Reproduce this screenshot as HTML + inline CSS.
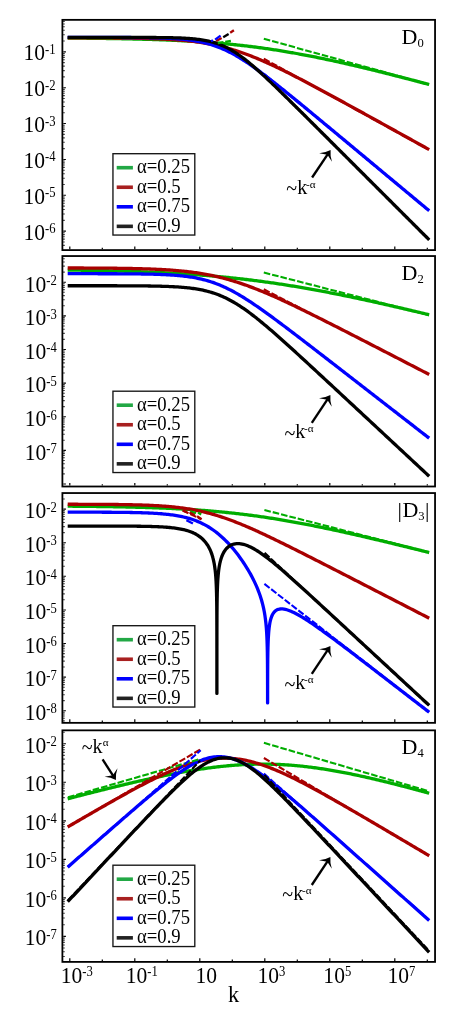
<!DOCTYPE html>
<html><head><meta charset="utf-8"><title>chart</title>
<style>svg text{font-family:"Liberation Serif",serif;}html,body{margin:0;padding:0;background:#fff;}body{width:463px;height:1021px;position:relative;overflow:hidden;font-family:"Liberation Serif",serif;}</style>
</head><body>
<svg width="463" height="1021" viewBox="0 0 463 1021" style="position:absolute;left:0;top:0;will-change:transform">
<rect width="463" height="1021" fill="#fff"/>
<clipPath id="c0"><rect x="62.4" y="19.85" width="372.65000000000003" height="230.25"/></clipPath>
<g clip-path="url(#c0)" fill="none" stroke-linejoin="round">
<path d="M67.69,38.06 L69.08,38.07 L70.48,38.08 L71.87,38.09 L73.27,38.11 L74.67,38.12 L76.06,38.13 L77.46,38.14 L78.85,38.15 L80.25,38.17 L81.64,38.18 L83.04,38.19 L84.44,38.21 L85.83,38.22 L87.23,38.24 L88.62,38.25 L90.02,38.27 L91.42,38.28 L92.81,38.30 L94.21,38.31 L95.60,38.33 L97.00,38.35 L98.39,38.37 L99.79,38.38 L101.19,38.40 L102.58,38.42 L103.98,38.44 L105.37,38.46 L106.77,38.48 L108.16,38.50 L109.56,38.52 L110.96,38.55 L112.35,38.57 L113.75,38.59 L115.14,38.61 L116.54,38.64 L117.93,38.66 L119.33,38.69 L120.73,38.71 L122.12,38.74 L123.52,38.77 L124.91,38.80 L126.31,38.83 L127.70,38.85 L129.10,38.88 L130.50,38.92 L131.89,38.95 L133.29,38.98 L134.68,39.01 L136.08,39.05 L137.47,39.08 L138.87,39.12 L140.27,39.15 L141.66,39.19 L143.06,39.23 L144.45,39.27 L145.85,39.31 L147.24,39.35 L148.64,39.39 L150.04,39.43 L151.43,39.47 L152.83,39.52 L154.22,39.57 L155.62,39.61 L157.02,39.66 L158.41,39.71 L159.81,39.76 L161.20,39.81 L162.60,39.86 L163.99,39.92 L165.39,39.97 L166.79,40.03 L168.18,40.08 L169.58,40.14 L170.97,40.20 L172.37,40.26 L173.76,40.32 L175.16,40.39 L176.56,40.45 L177.95,40.52 L179.35,40.59 L180.74,40.66 L182.14,40.73 L183.53,40.80 L184.93,40.87 L186.33,40.95 L187.72,41.02 L189.12,41.10 L190.51,41.18 L191.91,41.26 L193.30,41.35 L194.70,41.43 L196.10,41.52 L197.49,41.61 L198.89,41.70 L200.28,41.79 L201.68,41.89 L203.07,41.98 L204.47,42.08 L205.87,42.18 L207.26,42.28 L208.66,42.38 L210.05,42.49 L211.45,42.60 L212.84,42.70 L214.24,42.82 L215.64,42.93 L217.03,43.05 L218.43,43.16 L219.82,43.28 L221.22,43.40 L222.62,43.53 L224.01,43.65 L225.41,43.78 L226.80,43.91 L228.20,44.05 L229.59,44.18 L230.99,44.32 L232.39,44.46 L233.78,44.60 L235.18,44.74 L236.57,44.89 L237.97,45.04 L239.36,45.19 L240.76,45.34 L242.16,45.50 L243.55,45.66 L244.95,45.82 L246.34,45.98 L247.74,46.15 L249.13,46.32 L250.53,46.49 L251.93,46.66 L253.32,46.84 L254.72,47.01 L256.11,47.20 L257.51,47.38 L258.90,47.56 L260.30,47.75 L261.70,47.94 L263.09,48.14 L264.49,48.33 L265.88,48.53 L267.28,48.73 L268.67,48.93 L270.07,49.14 L271.47,49.34 L272.86,49.56 L274.26,49.77 L275.65,49.98 L277.05,50.20 L278.44,50.42 L279.84,50.64 L281.24,50.87 L282.63,51.10 L284.03,51.33 L285.42,51.56 L286.82,51.79 L288.21,52.03 L289.61,52.27 L291.01,52.51 L292.40,52.75 L293.80,53.00 L295.19,53.25 L296.59,53.50 L297.99,53.75 L299.38,54.01 L300.78,54.27 L302.17,54.53 L303.57,54.79 L304.96,55.05 L306.36,55.32 L307.76,55.59 L309.15,55.86 L310.55,56.13 L311.94,56.41 L313.34,56.68 L314.73,56.96 L316.13,57.24 L317.53,57.53 L318.92,57.81 L320.32,58.10 L321.71,58.39 L323.11,58.68 L324.50,58.97 L325.90,59.26 L327.30,59.56 L328.69,59.86 L330.09,60.16 L331.48,60.46 L332.88,60.76 L334.27,61.06 L335.67,61.37 L337.07,61.68 L338.46,61.99 L339.86,62.30 L341.25,62.61 L342.65,62.93 L344.04,63.24 L345.44,63.56 L346.84,63.88 L348.23,64.20 L349.63,64.52 L351.02,64.84 L352.42,65.17 L353.81,65.49 L355.21,65.82 L356.61,66.15 L358.00,66.48 L359.40,66.81 L360.79,67.14 L362.19,67.47 L363.59,67.81 L364.98,68.14 L366.38,68.48 L367.77,68.82 L369.17,69.16 L370.56,69.50 L371.96,69.84 L373.36,70.18 L374.75,70.52 L376.15,70.87 L377.54,71.21 L378.94,71.56 L380.33,71.91 L381.73,72.25 L383.13,72.60 L384.52,72.95 L385.92,73.30 L387.31,73.65 L388.71,74.01 L390.10,74.36 L391.50,74.71 L392.90,75.07 L394.29,75.42 L395.69,75.78 L397.08,76.14 L398.48,76.49 L399.87,76.85 L401.27,77.21 L402.67,77.57 L404.06,77.93 L405.46,78.29 L406.85,78.65 L408.25,79.02 L409.64,79.38 L411.04,79.74 L412.44,80.11 L413.83,80.47 L415.23,80.84 L416.62,81.20 L418.02,81.57 L419.41,81.93 L420.81,82.30 L422.21,82.67 L423.60,83.04 L425.00,83.41 L426.39,83.77 L427.79,84.14 L429.19,84.51" stroke="#00ad00" stroke-width="3.3"/>
<path d="M67.69,37.80 L69.08,37.80 L70.48,37.81 L71.87,37.81 L73.27,37.81 L74.67,37.81 L76.06,37.82 L77.46,37.82 L78.85,37.82 L80.25,37.83 L81.64,37.83 L83.04,37.83 L84.44,37.84 L85.83,37.84 L87.23,37.85 L88.62,37.85 L90.02,37.85 L91.42,37.86 L92.81,37.86 L94.21,37.87 L95.60,37.88 L97.00,37.88 L98.39,37.89 L99.79,37.89 L101.19,37.90 L102.58,37.91 L103.98,37.92 L105.37,37.92 L106.77,37.93 L108.16,37.94 L109.56,37.95 L110.96,37.96 L112.35,37.97 L113.75,37.98 L115.14,38.00 L116.54,38.01 L117.93,38.02 L119.33,38.03 L120.73,38.05 L122.12,38.06 L123.52,38.08 L124.91,38.10 L126.31,38.11 L127.70,38.13 L129.10,38.15 L130.50,38.17 L131.89,38.19 L133.29,38.21 L134.68,38.24 L136.08,38.26 L137.47,38.29 L138.87,38.32 L140.27,38.35 L141.66,38.38 L143.06,38.41 L144.45,38.44 L145.85,38.48 L147.24,38.51 L148.64,38.55 L150.04,38.59 L151.43,38.63 L152.83,38.68 L154.22,38.73 L155.62,38.78 L157.02,38.83 L158.41,38.88 L159.81,38.94 L161.20,39.00 L162.60,39.06 L163.99,39.13 L165.39,39.20 L166.79,39.27 L168.18,39.34 L169.58,39.42 L170.97,39.51 L172.37,39.59 L173.76,39.68 L175.16,39.78 L176.56,39.88 L177.95,39.98 L179.35,40.09 L180.74,40.21 L182.14,40.33 L183.53,40.45 L184.93,40.58 L186.33,40.71 L187.72,40.86 L189.12,41.00 L190.51,41.16 L191.91,41.32 L193.30,41.48 L194.70,41.66 L196.10,41.84 L197.49,42.02 L198.89,42.22 L200.28,42.42 L201.68,42.63 L203.07,42.85 L204.47,43.08 L205.87,43.31 L207.26,43.56 L208.66,43.81 L210.05,44.07 L211.45,44.34 L212.84,44.62 L214.24,44.91 L215.64,45.21 L217.03,45.51 L218.43,45.83 L219.82,46.16 L221.22,46.50 L222.62,46.84 L224.01,47.20 L225.41,47.56 L226.80,47.94 L228.20,48.33 L229.59,48.72 L230.99,49.13 L232.39,49.55 L233.78,49.97 L235.18,50.41 L236.57,50.85 L237.97,51.31 L239.36,51.77 L240.76,52.25 L242.16,52.73 L243.55,53.23 L244.95,53.73 L246.34,54.24 L247.74,54.76 L249.13,55.29 L250.53,55.83 L251.93,56.37 L253.32,56.93 L254.72,57.49 L256.11,58.06 L257.51,58.64 L258.90,59.22 L260.30,59.82 L261.70,60.42 L263.09,61.02 L264.49,61.64 L265.88,62.26 L267.28,62.88 L268.67,63.52 L270.07,64.15 L271.47,64.80 L272.86,65.45 L274.26,66.10 L275.65,66.76 L277.05,67.43 L278.44,68.10 L279.84,68.77 L281.24,69.45 L282.63,70.13 L284.03,70.82 L285.42,71.51 L286.82,72.20 L288.21,72.90 L289.61,73.60 L291.01,74.31 L292.40,75.02 L293.80,75.73 L295.19,76.44 L296.59,77.16 L297.99,77.88 L299.38,78.60 L300.78,79.33 L302.17,80.05 L303.57,80.78 L304.96,81.52 L306.36,82.25 L307.76,82.98 L309.15,83.72 L310.55,84.46 L311.94,85.20 L313.34,85.94 L314.73,86.69 L316.13,87.43 L317.53,88.18 L318.92,88.93 L320.32,89.68 L321.71,90.43 L323.11,91.18 L324.50,91.94 L325.90,92.69 L327.30,93.45 L328.69,94.20 L330.09,94.96 L331.48,95.72 L332.88,96.48 L334.27,97.23 L335.67,98.00 L337.07,98.76 L338.46,99.52 L339.86,100.28 L341.25,101.04 L342.65,101.81 L344.04,102.57 L345.44,103.34 L346.84,104.10 L348.23,104.87 L349.63,105.63 L351.02,106.40 L352.42,107.17 L353.81,107.93 L355.21,108.70 L356.61,109.47 L358.00,110.24 L359.40,111.01 L360.79,111.77 L362.19,112.54 L363.59,113.31 L364.98,114.08 L366.38,114.85 L367.77,115.62 L369.17,116.39 L370.56,117.16 L371.96,117.94 L373.36,118.71 L374.75,119.48 L376.15,120.25 L377.54,121.02 L378.94,121.79 L380.33,122.56 L381.73,123.34 L383.13,124.11 L384.52,124.88 L385.92,125.65 L387.31,126.43 L388.71,127.20 L390.10,127.97 L391.50,128.74 L392.90,129.52 L394.29,130.29 L395.69,131.06 L397.08,131.84 L398.48,132.61 L399.87,133.38 L401.27,134.16 L402.67,134.93 L404.06,135.70 L405.46,136.48 L406.85,137.25 L408.25,138.03 L409.64,138.80 L411.04,139.57 L412.44,140.35 L413.83,141.12 L415.23,141.90 L416.62,142.67 L418.02,143.44 L419.41,144.22 L420.81,144.99 L422.21,145.77 L423.60,146.54 L425.00,147.31 L426.39,148.09 L427.79,148.86 L429.19,149.64" stroke="#a80000" stroke-width="3.3"/>
<path d="M67.69,37.41 L69.08,37.41 L70.48,37.41 L71.87,37.41 L73.27,37.41 L74.67,37.41 L76.06,37.41 L77.46,37.41 L78.85,37.41 L80.25,37.41 L81.64,37.41 L83.04,37.41 L84.44,37.41 L85.83,37.41 L87.23,37.41 L88.62,37.41 L90.02,37.41 L91.42,37.42 L92.81,37.42 L94.21,37.42 L95.60,37.42 L97.00,37.42 L98.39,37.42 L99.79,37.42 L101.19,37.43 L102.58,37.43 L103.98,37.43 L105.37,37.43 L106.77,37.44 L108.16,37.44 L109.56,37.44 L110.96,37.44 L112.35,37.45 L113.75,37.45 L115.14,37.45 L116.54,37.46 L117.93,37.46 L119.33,37.47 L120.73,37.47 L122.12,37.48 L123.52,37.48 L124.91,37.49 L126.31,37.50 L127.70,37.51 L129.10,37.51 L130.50,37.52 L131.89,37.53 L133.29,37.54 L134.68,37.55 L136.08,37.56 L137.47,37.58 L138.87,37.59 L140.27,37.61 L141.66,37.62 L143.06,37.64 L144.45,37.66 L145.85,37.68 L147.24,37.70 L148.64,37.72 L150.04,37.74 L151.43,37.77 L152.83,37.80 L154.22,37.83 L155.62,37.86 L157.02,37.90 L158.41,37.94 L159.81,37.98 L161.20,38.02 L162.60,38.07 L163.99,38.12 L165.39,38.17 L166.79,38.23 L168.18,38.29 L169.58,38.36 L170.97,38.43 L172.37,38.51 L173.76,38.59 L175.16,38.68 L176.56,38.78 L177.95,38.88 L179.35,38.99 L180.74,39.10 L182.14,39.23 L183.53,39.36 L184.93,39.51 L186.33,39.66 L187.72,39.82 L189.12,39.99 L190.51,40.18 L191.91,40.37 L193.30,40.58 L194.70,40.80 L196.10,41.04 L197.49,41.29 L198.89,41.55 L200.28,41.83 L201.68,42.13 L203.07,42.44 L204.47,42.77 L205.87,43.12 L207.26,43.49 L208.66,43.87 L210.05,44.28 L211.45,44.71 L212.84,45.15 L214.24,45.62 L215.64,46.11 L217.03,46.62 L218.43,47.15 L219.82,47.70 L221.22,48.27 L222.62,48.87 L224.01,49.48 L225.41,50.12 L226.80,50.78 L228.20,51.46 L229.59,52.17 L230.99,52.89 L232.39,53.63 L233.78,54.40 L235.18,55.18 L236.57,55.98 L237.97,56.80 L239.36,57.64 L240.76,58.49 L242.16,59.36 L243.55,60.25 L244.95,61.15 L246.34,62.07 L247.74,63.00 L249.13,63.94 L250.53,64.90 L251.93,65.87 L253.32,66.85 L254.72,67.85 L256.11,68.85 L257.51,69.86 L258.90,70.89 L260.30,71.92 L261.70,72.96 L263.09,74.01 L264.49,75.06 L265.88,76.12 L267.28,77.19 L268.67,78.27 L270.07,79.35 L271.47,80.44 L272.86,81.53 L274.26,82.62 L275.65,83.72 L277.05,84.83 L278.44,85.94 L279.84,87.05 L281.24,88.17 L282.63,89.29 L284.03,90.41 L285.42,91.53 L286.82,92.66 L288.21,93.79 L289.61,94.92 L291.01,96.06 L292.40,97.20 L293.80,98.33 L295.19,99.47 L296.59,100.61 L297.99,101.76 L299.38,102.90 L300.78,104.05 L302.17,105.19 L303.57,106.34 L304.96,107.49 L306.36,108.64 L307.76,109.79 L309.15,110.94 L310.55,112.10 L311.94,113.25 L313.34,114.40 L314.73,115.56 L316.13,116.71 L317.53,117.87 L318.92,119.02 L320.32,120.18 L321.71,121.33 L323.11,122.49 L324.50,123.65 L325.90,124.81 L327.30,125.96 L328.69,127.12 L330.09,128.28 L331.48,129.44 L332.88,130.60 L334.27,131.76 L335.67,132.92 L337.07,134.08 L338.46,135.24 L339.86,136.40 L341.25,137.56 L342.65,138.72 L344.04,139.88 L345.44,141.04 L346.84,142.20 L348.23,143.36 L349.63,144.52 L351.02,145.68 L352.42,146.84 L353.81,148.01 L355.21,149.17 L356.61,150.33 L358.00,151.49 L359.40,152.65 L360.79,153.81 L362.19,154.97 L363.59,156.14 L364.98,157.30 L366.38,158.46 L367.77,159.62 L369.17,160.78 L370.56,161.94 L371.96,163.11 L373.36,164.27 L374.75,165.43 L376.15,166.59 L377.54,167.75 L378.94,168.91 L380.33,170.08 L381.73,171.24 L383.13,172.40 L384.52,173.56 L385.92,174.72 L387.31,175.89 L388.71,177.05 L390.10,178.21 L391.50,179.37 L392.90,180.53 L394.29,181.70 L395.69,182.86 L397.08,184.02 L398.48,185.18 L399.87,186.34 L401.27,187.51 L402.67,188.67 L404.06,189.83 L405.46,190.99 L406.85,192.15 L408.25,193.32 L409.64,194.48 L411.04,195.64 L412.44,196.80 L413.83,197.96 L415.23,199.13 L416.62,200.29 L418.02,201.45 L419.41,202.61 L420.81,203.77 L422.21,204.94 L423.60,206.10 L425.00,207.26 L426.39,208.42 L427.79,209.59 L429.19,210.75" stroke="#0000ff" stroke-width="3.3"/>
<path d="M67.69,37.40 L69.08,37.40 L70.48,37.40 L71.87,37.40 L73.27,37.40 L74.67,37.40 L76.06,37.40 L77.46,37.40 L78.85,37.40 L80.25,37.40 L81.64,37.40 L83.04,37.40 L84.44,37.40 L85.83,37.40 L87.23,37.40 L88.62,37.40 L90.02,37.40 L91.42,37.40 L92.81,37.40 L94.21,37.40 L95.60,37.40 L97.00,37.40 L98.39,37.40 L99.79,37.40 L101.19,37.40 L102.58,37.40 L103.98,37.40 L105.37,37.40 L106.77,37.41 L108.16,37.41 L109.56,37.41 L110.96,37.41 L112.35,37.41 L113.75,37.41 L115.14,37.41 L116.54,37.41 L117.93,37.41 L119.33,37.41 L120.73,37.41 L122.12,37.41 L123.52,37.41 L124.91,37.41 L126.31,37.42 L127.70,37.42 L129.10,37.42 L130.50,37.42 L131.89,37.42 L133.29,37.43 L134.68,37.43 L136.08,37.43 L137.47,37.43 L138.87,37.44 L140.27,37.44 L141.66,37.44 L143.06,37.45 L144.45,37.45 L145.85,37.46 L147.24,37.47 L148.64,37.47 L150.04,37.48 L151.43,37.49 L152.83,37.50 L154.22,37.50 L155.62,37.51 L157.02,37.53 L158.41,37.54 L159.81,37.55 L161.20,37.57 L162.60,37.58 L163.99,37.60 L165.39,37.62 L166.79,37.64 L168.18,37.67 L169.58,37.69 L170.97,37.72 L172.37,37.76 L173.76,37.79 L175.16,37.83 L176.56,37.87 L177.95,37.92 L179.35,37.97 L180.74,38.02 L182.14,38.09 L183.53,38.15 L184.93,38.23 L186.33,38.31 L187.72,38.39 L189.12,38.49 L190.51,38.59 L191.91,38.71 L193.30,38.83 L194.70,38.97 L196.10,39.12 L197.49,39.28 L198.89,39.45 L200.28,39.64 L201.68,39.85 L203.07,40.07 L204.47,40.32 L205.87,40.58 L207.26,40.86 L208.66,41.17 L210.05,41.49 L211.45,41.85 L212.84,42.23 L214.24,42.63 L215.64,43.06 L217.03,43.53 L218.43,44.02 L219.82,44.54 L221.22,45.10 L222.62,45.69 L224.01,46.31 L225.41,46.96 L226.80,47.64 L228.20,48.36 L229.59,49.12 L230.99,49.90 L232.39,50.72 L233.78,51.57 L235.18,52.45 L236.57,53.36 L237.97,54.30 L239.36,55.27 L240.76,56.27 L242.16,57.29 L243.55,58.34 L244.95,59.42 L246.34,60.51 L247.74,61.63 L249.13,62.77 L250.53,63.93 L251.93,65.10 L253.32,66.30 L254.72,67.51 L256.11,68.73 L257.51,69.97 L258.90,71.22 L260.30,72.48 L261.70,73.76 L263.09,75.04 L264.49,76.33 L265.88,77.63 L267.28,78.94 L268.67,80.26 L270.07,81.58 L271.47,82.91 L272.86,84.25 L274.26,85.59 L275.65,86.93 L277.05,88.28 L278.44,89.64 L279.84,90.99 L281.24,92.35 L282.63,93.72 L284.03,95.08 L285.42,96.45 L286.82,97.82 L288.21,99.20 L289.61,100.57 L291.01,101.95 L292.40,103.33 L293.80,104.71 L295.19,106.09 L296.59,107.47 L297.99,108.86 L299.38,110.24 L300.78,111.63 L302.17,113.01 L303.57,114.40 L304.96,115.79 L306.36,117.17 L307.76,118.56 L309.15,119.95 L310.55,121.34 L311.94,122.73 L313.34,124.12 L314.73,125.51 L316.13,126.91 L317.53,128.30 L318.92,129.69 L320.32,131.08 L321.71,132.47 L323.11,133.87 L324.50,135.26 L325.90,136.65 L327.30,138.04 L328.69,139.44 L330.09,140.83 L331.48,142.22 L332.88,143.62 L334.27,145.01 L335.67,146.41 L337.07,147.80 L338.46,149.19 L339.86,150.59 L341.25,151.98 L342.65,153.38 L344.04,154.77 L345.44,156.16 L346.84,157.56 L348.23,158.95 L349.63,160.35 L351.02,161.74 L352.42,163.13 L353.81,164.53 L355.21,165.92 L356.61,167.32 L358.00,168.71 L359.40,170.11 L360.79,171.50 L362.19,172.89 L363.59,174.29 L364.98,175.68 L366.38,177.08 L367.77,178.47 L369.17,179.87 L370.56,181.26 L371.96,182.66 L373.36,184.05 L374.75,185.44 L376.15,186.84 L377.54,188.23 L378.94,189.63 L380.33,191.02 L381.73,192.42 L383.13,193.81 L384.52,195.21 L385.92,196.60 L387.31,198.00 L388.71,199.39 L390.10,200.78 L391.50,202.18 L392.90,203.57 L394.29,204.97 L395.69,206.36 L397.08,207.76 L398.48,209.15 L399.87,210.55 L401.27,211.94 L402.67,213.34 L404.06,214.73 L405.46,216.12 L406.85,217.52 L408.25,218.91 L409.64,220.31 L411.04,221.70 L412.44,223.10 L413.83,224.49 L415.23,225.89 L416.62,227.28 L418.02,228.68 L419.41,230.07 L420.81,231.46 L422.21,232.86 L423.60,234.25 L425.00,235.65 L426.39,237.04 L427.79,238.44 L429.19,239.83" stroke="#000000" stroke-width="3.3"/>
<path d="M263.80,38.70L429.00,84.50" stroke="#00ad00" stroke-width="2.1" stroke-dasharray="6.6 2.0"/>
<path d="M263.80,58.70L429.20,149.90" stroke="#a80000" stroke-width="2.1" stroke-dasharray="6.6 2.0"/>
<path d="M263.90,73.90L428.80,210.50" stroke="#0000ff" stroke-width="2.1" stroke-dasharray="6.6 2.0"/>
<path d="M263.80,74.70L429.00,239.70" stroke="#000000" stroke-width="2.1" stroke-dasharray="6.6 2.0"/>
<path d="M217.80,43.10L223.50,42.20" stroke="#00ad00" stroke-width="2.3"/>
<path d="M225.20,41.90L230.90,41.00" stroke="#00ad00" stroke-width="2.3"/>
<path d="M216.20,41.00L221.60,38.00" stroke="#a80000" stroke-width="2.3"/>
<path d="M223.20,37.20L228.60,33.90" stroke="#000000" stroke-width="2.3"/>
<path d="M230.20,32.80L233.90,30.30" stroke="#a80000" stroke-width="2.3"/>
<path d="M211.00,41.30L213.00,40.20" stroke="#0000ff" stroke-width="2.3"/>
<path d="M215.10,39.60L220.60,35.60" stroke="#0000ff" stroke-width="2.3"/>
</g>
<rect x="62.4" y="19.85" width="372.65000000000003" height="230.25" fill="none" stroke="#000" stroke-width="1.8"/>
<path d="M63.3,51.85h2.6 M63.3,41.06h1.3 M63.3,34.74h1.3 M63.3,30.26h1.3 M63.3,26.78h1.3 M63.3,23.95h1.3 M63.3,21.54h1.3 M63.3,87.71h2.6 M63.3,76.92h1.3 M63.3,70.60h1.3 M63.3,66.12h1.3 M63.3,62.64h1.3 M63.3,59.81h1.3 M63.3,57.40h1.3 M63.3,55.33h1.3 M63.3,53.49h1.3 M63.3,123.57h2.6 M63.3,112.78h1.3 M63.3,106.46h1.3 M63.3,101.98h1.3 M63.3,98.50h1.3 M63.3,95.67h1.3 M63.3,93.26h1.3 M63.3,91.19h1.3 M63.3,89.35h1.3 M63.3,159.43h2.6 M63.3,148.64h1.3 M63.3,142.32h1.3 M63.3,137.84h1.3 M63.3,134.36h1.3 M63.3,131.53h1.3 M63.3,129.12h1.3 M63.3,127.05h1.3 M63.3,125.21h1.3 M63.3,195.29h2.6 M63.3,184.50h1.3 M63.3,178.18h1.3 M63.3,173.70h1.3 M63.3,170.22h1.3 M63.3,167.39h1.3 M63.3,164.98h1.3 M63.3,162.91h1.3 M63.3,161.07h1.3 M63.3,231.15h2.6 M63.3,220.36h1.3 M63.3,214.04h1.3 M63.3,209.56h1.3 M63.3,206.08h1.3 M63.3,203.25h1.3 M63.3,200.84h1.3 M63.3,198.77h1.3 M63.3,196.93h1.3 M63.3,245.42h1.3 M63.3,241.94h1.3 M63.3,239.11h1.3 M63.3,236.70h1.3 M63.3,234.63h1.3 M63.3,232.79h1.3" stroke="#000" stroke-width="1.1" fill="none"/>
<path d="M69.80,249.2v-2.7 M102.30,249.2v-1.4 M134.80,249.2v-2.7 M167.30,249.2v-1.4 M199.80,249.2v-2.7 M232.30,249.2v-1.4 M264.80,249.2v-2.7 M297.30,249.2v-1.4 M329.80,249.2v-2.7 M362.30,249.2v-1.4 M394.80,249.2v-2.7 M427.30,249.2v-1.4" stroke="#000" stroke-width="1.2" fill="none"/>
<text transform="translate(23.5,60.25) scale(0.93,1)" font-size="23.2">10<tspan font-size="13.6" dy="-6.4">-1</tspan></text>
<text transform="translate(23.5,96.11) scale(0.93,1)" font-size="23.2">10<tspan font-size="13.6" dy="-6.4">-2</tspan></text>
<text transform="translate(23.5,131.97) scale(0.93,1)" font-size="23.2">10<tspan font-size="13.6" dy="-6.4">-3</tspan></text>
<text transform="translate(23.5,167.83) scale(0.93,1)" font-size="23.2">10<tspan font-size="13.6" dy="-6.4">-4</tspan></text>
<text transform="translate(23.5,203.69) scale(0.93,1)" font-size="23.2">10<tspan font-size="13.6" dy="-6.4">-5</tspan></text>
<text transform="translate(23.5,239.55) scale(0.93,1)" font-size="23.2">10<tspan font-size="13.6" dy="-6.4">-6</tspan></text>
<clipPath id="c1"><rect x="62.4" y="256.05" width="372.65000000000003" height="230.45"/></clipPath>
<g clip-path="url(#c1)" fill="none" stroke-linejoin="round">
<path d="M67.69,270.03 L69.08,270.05 L70.48,270.07 L71.87,270.09 L73.27,270.11 L74.67,270.13 L76.06,270.15 L77.46,270.17 L78.85,270.20 L80.25,270.22 L81.64,270.24 L83.04,270.26 L84.44,270.29 L85.83,270.31 L87.23,270.34 L88.62,270.36 L90.02,270.39 L91.42,270.41 L92.81,270.44 L94.21,270.47 L95.60,270.50 L97.00,270.52 L98.39,270.55 L99.79,270.58 L101.19,270.61 L102.58,270.64 L103.98,270.67 L105.37,270.71 L106.77,270.74 L108.16,270.77 L109.56,270.81 L110.96,270.84 L112.35,270.88 L113.75,270.91 L115.14,270.95 L116.54,270.99 L117.93,271.02 L119.33,271.06 L120.73,271.10 L122.12,271.14 L123.52,271.18 L124.91,271.23 L126.31,271.27 L127.70,271.31 L129.10,271.36 L130.50,271.40 L131.89,271.45 L133.29,271.49 L134.68,271.54 L136.08,271.59 L137.47,271.64 L138.87,271.69 L140.27,271.74 L141.66,271.79 L143.06,271.85 L144.45,271.90 L145.85,271.95 L147.24,272.01 L148.64,272.07 L150.04,272.13 L151.43,272.19 L152.83,272.25 L154.22,272.31 L155.62,272.37 L157.02,272.43 L158.41,272.50 L159.81,272.56 L161.20,272.63 L162.60,272.70 L163.99,272.77 L165.39,272.84 L166.79,272.91 L168.18,272.98 L169.58,273.06 L170.97,273.13 L172.37,273.21 L173.76,273.29 L175.16,273.37 L176.56,273.45 L177.95,273.53 L179.35,273.61 L180.74,273.70 L182.14,273.79 L183.53,273.87 L184.93,273.96 L186.33,274.05 L187.72,274.15 L189.12,274.24 L190.51,274.33 L191.91,274.43 L193.30,274.53 L194.70,274.63 L196.10,274.73 L197.49,274.83 L198.89,274.94 L200.28,275.04 L201.68,275.15 L203.07,275.26 L204.47,275.37 L205.87,275.48 L207.26,275.59 L208.66,275.71 L210.05,275.83 L211.45,275.95 L212.84,276.07 L214.24,276.19 L215.64,276.31 L217.03,276.44 L218.43,276.57 L219.82,276.70 L221.22,276.83 L222.62,276.96 L224.01,277.09 L225.41,277.23 L226.80,277.37 L228.20,277.51 L229.59,277.65 L230.99,277.80 L232.39,277.94 L233.78,278.09 L235.18,278.24 L236.57,278.39 L237.97,278.54 L239.36,278.70 L240.76,278.85 L242.16,279.01 L243.55,279.17 L244.95,279.34 L246.34,279.50 L247.74,279.67 L249.13,279.84 L250.53,280.01 L251.93,280.18 L253.32,280.35 L254.72,280.53 L256.11,280.71 L257.51,280.89 L258.90,281.07 L260.30,281.25 L261.70,281.44 L263.09,281.63 L264.49,281.81 L265.88,282.01 L267.28,282.20 L268.67,282.39 L270.07,282.59 L271.47,282.79 L272.86,282.99 L274.26,283.19 L275.65,283.40 L277.05,283.61 L278.44,283.81 L279.84,284.03 L281.24,284.24 L282.63,284.45 L284.03,284.67 L285.42,284.89 L286.82,285.11 L288.21,285.33 L289.61,285.55 L291.01,285.78 L292.40,286.00 L293.80,286.23 L295.19,286.46 L296.59,286.69 L297.99,286.93 L299.38,287.16 L300.78,287.40 L302.17,287.64 L303.57,287.88 L304.96,288.12 L306.36,288.37 L307.76,288.61 L309.15,288.86 L310.55,289.11 L311.94,289.36 L313.34,289.62 L314.73,289.87 L316.13,290.13 L317.53,290.38 L318.92,290.64 L320.32,290.90 L321.71,291.17 L323.11,291.43 L324.50,291.69 L325.90,291.96 L327.30,292.23 L328.69,292.50 L330.09,292.77 L331.48,293.04 L332.88,293.32 L334.27,293.59 L335.67,293.87 L337.07,294.15 L338.46,294.42 L339.86,294.71 L341.25,294.99 L342.65,295.27 L344.04,295.56 L345.44,295.84 L346.84,296.13 L348.23,296.42 L349.63,296.71 L351.02,297.00 L352.42,297.29 L353.81,297.58 L355.21,297.88 L356.61,298.17 L358.00,298.47 L359.40,298.77 L360.79,299.07 L362.19,299.37 L363.59,299.67 L364.98,299.97 L366.38,300.27 L367.77,300.58 L369.17,300.88 L370.56,301.19 L371.96,301.50 L373.36,301.80 L374.75,302.11 L376.15,302.42 L377.54,302.73 L378.94,303.05 L380.33,303.36 L381.73,303.67 L383.13,303.99 L384.52,304.30 L385.92,304.62 L387.31,304.94 L388.71,305.25 L390.10,305.57 L391.50,305.89 L392.90,306.21 L394.29,306.53 L395.69,306.85 L397.08,307.18 L398.48,307.50 L399.87,307.82 L401.27,308.15 L402.67,308.47 L404.06,308.80 L405.46,309.13 L406.85,309.45 L408.25,309.78 L409.64,310.11 L411.04,310.44 L412.44,310.77 L413.83,311.10 L415.23,311.43 L416.62,311.76 L418.02,312.10 L419.41,312.43 L420.81,312.76 L422.21,313.10 L423.60,313.43 L425.00,313.77 L426.39,314.10 L427.79,314.44 L429.19,314.77" stroke="#00ad00" stroke-width="3.3"/>
<path d="M67.69,267.98 L69.08,267.98 L70.48,267.98 L71.87,267.99 L73.27,267.99 L74.67,267.99 L76.06,268.00 L77.46,268.00 L78.85,268.01 L80.25,268.01 L81.64,268.02 L83.04,268.02 L84.44,268.03 L85.83,268.03 L87.23,268.04 L88.62,268.04 L90.02,268.05 L91.42,268.06 L92.81,268.06 L94.21,268.07 L95.60,268.08 L97.00,268.09 L98.39,268.10 L99.79,268.11 L101.19,268.12 L102.58,268.13 L103.98,268.14 L105.37,268.15 L106.77,268.16 L108.16,268.17 L109.56,268.18 L110.96,268.20 L112.35,268.21 L113.75,268.23 L115.14,268.24 L116.54,268.26 L117.93,268.28 L119.33,268.29 L120.73,268.31 L122.12,268.33 L123.52,268.35 L124.91,268.38 L126.31,268.40 L127.70,268.42 L129.10,268.45 L130.50,268.47 L131.89,268.50 L133.29,268.53 L134.68,268.56 L136.08,268.59 L137.47,268.63 L138.87,268.66 L140.27,268.70 L141.66,268.73 L143.06,268.78 L144.45,268.82 L145.85,268.86 L147.24,268.91 L148.64,268.96 L150.04,269.01 L151.43,269.06 L152.83,269.11 L154.22,269.17 L155.62,269.23 L157.02,269.29 L158.41,269.36 L159.81,269.43 L161.20,269.50 L162.60,269.58 L163.99,269.66 L165.39,269.74 L166.79,269.82 L168.18,269.91 L169.58,270.01 L170.97,270.11 L172.37,270.21 L173.76,270.31 L175.16,270.42 L176.56,270.54 L177.95,270.66 L179.35,270.79 L180.74,270.92 L182.14,271.05 L183.53,271.19 L184.93,271.34 L186.33,271.49 L187.72,271.65 L189.12,271.82 L190.51,271.99 L191.91,272.16 L193.30,272.35 L194.70,272.54 L196.10,272.74 L197.49,272.94 L198.89,273.15 L200.28,273.37 L201.68,273.60 L203.07,273.84 L204.47,274.08 L205.87,274.33 L207.26,274.59 L208.66,274.86 L210.05,275.13 L211.45,275.41 L212.84,275.71 L214.24,276.01 L215.64,276.32 L217.03,276.63 L218.43,276.96 L219.82,277.30 L221.22,277.64 L222.62,277.99 L224.01,278.35 L225.41,278.73 L226.80,279.11 L228.20,279.49 L229.59,279.89 L230.99,280.30 L232.39,280.71 L233.78,281.13 L235.18,281.57 L236.57,282.01 L237.97,282.45 L239.36,282.91 L240.76,283.38 L242.16,283.85 L243.55,284.33 L244.95,284.82 L246.34,285.31 L247.74,285.82 L249.13,286.33 L250.53,286.85 L251.93,287.37 L253.32,287.91 L254.72,288.44 L256.11,288.99 L257.51,289.54 L258.90,290.10 L260.30,290.67 L261.70,291.24 L263.09,291.81 L264.49,292.39 L265.88,292.98 L267.28,293.57 L268.67,294.17 L270.07,294.78 L271.47,295.38 L272.86,295.99 L274.26,296.61 L275.65,297.23 L277.05,297.86 L278.44,298.49 L279.84,299.12 L281.24,299.76 L282.63,300.40 L284.03,301.04 L285.42,301.69 L286.82,302.34 L288.21,302.99 L289.61,303.65 L291.01,304.31 L292.40,304.97 L293.80,305.63 L295.19,306.30 L296.59,306.97 L297.99,307.64 L299.38,308.32 L300.78,308.99 L302.17,309.67 L303.57,310.35 L304.96,311.03 L306.36,311.72 L307.76,312.40 L309.15,313.09 L310.55,313.78 L311.94,314.47 L313.34,315.16 L314.73,315.86 L316.13,316.55 L317.53,317.25 L318.92,317.94 L320.32,318.64 L321.71,319.34 L323.11,320.04 L324.50,320.74 L325.90,321.45 L327.30,322.15 L328.69,322.85 L330.09,323.56 L331.48,324.26 L332.88,324.97 L334.27,325.68 L335.67,326.38 L337.07,327.09 L338.46,327.80 L339.86,328.51 L341.25,329.22 L342.65,329.93 L344.04,330.64 L345.44,331.36 L346.84,332.07 L348.23,332.78 L349.63,333.50 L351.02,334.21 L352.42,334.92 L353.81,335.64 L355.21,336.35 L356.61,337.07 L358.00,337.78 L359.40,338.50 L360.79,339.21 L362.19,339.93 L363.59,340.65 L364.98,341.36 L366.38,342.08 L367.77,342.80 L369.17,343.52 L370.56,344.23 L371.96,344.95 L373.36,345.67 L374.75,346.39 L376.15,347.11 L377.54,347.83 L378.94,348.54 L380.33,349.26 L381.73,349.98 L383.13,350.70 L384.52,351.42 L385.92,352.14 L387.31,352.86 L388.71,353.58 L390.10,354.30 L391.50,355.02 L392.90,355.74 L394.29,356.46 L395.69,357.18 L397.08,357.90 L398.48,358.62 L399.87,359.34 L401.27,360.06 L402.67,360.78 L404.06,361.50 L405.46,362.22 L406.85,362.94 L408.25,363.66 L409.64,364.39 L411.04,365.11 L412.44,365.83 L413.83,366.55 L415.23,367.27 L416.62,367.99 L418.02,368.71 L419.41,369.43 L420.81,370.15 L422.21,370.88 L423.60,371.60 L425.00,372.32 L426.39,373.04 L427.79,373.76 L429.19,374.48" stroke="#a80000" stroke-width="3.3"/>
<path d="M67.69,273.70 L69.08,273.70 L70.48,273.70 L71.87,273.70 L73.27,273.70 L74.67,273.70 L76.06,273.70 L77.46,273.71 L78.85,273.71 L80.25,273.71 L81.64,273.71 L83.04,273.71 L84.44,273.71 L85.83,273.71 L87.23,273.71 L88.62,273.71 L90.02,273.71 L91.42,273.72 L92.81,273.72 L94.21,273.72 L95.60,273.72 L97.00,273.72 L98.39,273.73 L99.79,273.73 L101.19,273.73 L102.58,273.73 L103.98,273.74 L105.37,273.74 L106.77,273.74 L108.16,273.75 L109.56,273.75 L110.96,273.75 L112.35,273.76 L113.75,273.76 L115.14,273.77 L116.54,273.77 L117.93,273.78 L119.33,273.79 L120.73,273.79 L122.12,273.80 L123.52,273.81 L124.91,273.82 L126.31,273.83 L127.70,273.84 L129.10,273.85 L130.50,273.86 L131.89,273.87 L133.29,273.88 L134.68,273.90 L136.08,273.91 L137.47,273.93 L138.87,273.95 L140.27,273.96 L141.66,273.98 L143.06,274.01 L144.45,274.03 L145.85,274.05 L147.24,274.08 L148.64,274.11 L150.04,274.14 L151.43,274.17 L152.83,274.21 L154.22,274.25 L155.62,274.29 L157.02,274.33 L158.41,274.38 L159.81,274.43 L161.20,274.48 L162.60,274.54 L163.99,274.60 L165.39,274.67 L166.79,274.74 L168.18,274.81 L169.58,274.89 L170.97,274.98 L172.37,275.07 L173.76,275.17 L175.16,275.28 L176.56,275.39 L177.95,275.51 L179.35,275.64 L180.74,275.78 L182.14,275.92 L183.53,276.08 L184.93,276.24 L186.33,276.42 L187.72,276.60 L189.12,276.80 L190.51,277.01 L191.91,277.23 L193.30,277.47 L194.70,277.72 L196.10,277.98 L197.49,278.26 L198.89,278.55 L200.28,278.86 L201.68,279.19 L203.07,279.53 L204.47,279.89 L205.87,280.27 L207.26,280.66 L208.66,281.08 L210.05,281.51 L211.45,281.96 L212.84,282.43 L214.24,282.92 L215.64,283.43 L217.03,283.96 L218.43,284.51 L219.82,285.08 L221.22,285.67 L222.62,286.28 L224.01,286.90 L225.41,287.55 L226.80,288.21 L228.20,288.90 L229.59,289.60 L230.99,290.32 L232.39,291.05 L233.78,291.81 L235.18,292.58 L236.57,293.36 L237.97,294.17 L239.36,294.98 L240.76,295.81 L242.16,296.66 L243.55,297.51 L244.95,298.38 L246.34,299.27 L247.74,300.16 L249.13,301.07 L250.53,301.98 L251.93,302.91 L253.32,303.84 L254.72,304.79 L256.11,305.74 L257.51,306.70 L258.90,307.67 L260.30,308.64 L261.70,309.63 L263.09,310.62 L264.49,311.61 L265.88,312.61 L267.28,313.62 L268.67,314.63 L270.07,315.64 L271.47,316.66 L272.86,317.69 L274.26,318.72 L275.65,319.75 L277.05,320.78 L278.44,321.82 L279.84,322.86 L281.24,323.91 L282.63,324.96 L284.03,326.00 L285.42,327.06 L286.82,328.11 L288.21,329.17 L289.61,330.22 L291.01,331.28 L292.40,332.34 L293.80,333.41 L295.19,334.47 L296.59,335.54 L297.99,336.60 L299.38,337.67 L300.78,338.74 L302.17,339.81 L303.57,340.88 L304.96,341.95 L306.36,343.02 L307.76,344.09 L309.15,345.17 L310.55,346.24 L311.94,347.32 L313.34,348.39 L314.73,349.47 L316.13,350.54 L317.53,351.62 L318.92,352.70 L320.32,353.78 L321.71,354.85 L323.11,355.93 L324.50,357.01 L325.90,358.09 L327.30,359.17 L328.69,360.25 L330.09,361.33 L331.48,362.41 L332.88,363.49 L334.27,364.57 L335.67,365.65 L337.07,366.73 L338.46,367.81 L339.86,368.89 L341.25,369.97 L342.65,371.06 L344.04,372.14 L345.44,373.22 L346.84,374.30 L348.23,375.38 L349.63,376.46 L351.02,377.55 L352.42,378.63 L353.81,379.71 L355.21,380.79 L356.61,381.87 L358.00,382.96 L359.40,384.04 L360.79,385.12 L362.19,386.20 L363.59,387.28 L364.98,388.37 L366.38,389.45 L367.77,390.53 L369.17,391.61 L370.56,392.70 L371.96,393.78 L373.36,394.86 L374.75,395.94 L376.15,397.03 L377.54,398.11 L378.94,399.19 L380.33,400.27 L381.73,401.36 L383.13,402.44 L384.52,403.52 L385.92,404.61 L387.31,405.69 L388.71,406.77 L390.10,407.85 L391.50,408.94 L392.90,410.02 L394.29,411.10 L395.69,412.18 L397.08,413.27 L398.48,414.35 L399.87,415.43 L401.27,416.52 L402.67,417.60 L404.06,418.68 L405.46,419.76 L406.85,420.85 L408.25,421.93 L409.64,423.01 L411.04,424.10 L412.44,425.18 L413.83,426.26 L415.23,427.34 L416.62,428.43 L418.02,429.51 L419.41,430.59 L420.81,431.68 L422.21,432.76 L423.60,433.84 L425.00,434.92 L426.39,436.01 L427.79,437.09 L429.19,438.17" stroke="#0000ff" stroke-width="3.3"/>
<path d="M67.69,285.73 L69.08,285.73 L70.48,285.73 L71.87,285.73 L73.27,285.73 L74.67,285.74 L76.06,285.74 L77.46,285.74 L78.85,285.74 L80.25,285.74 L81.64,285.74 L83.04,285.74 L84.44,285.74 L85.83,285.74 L87.23,285.74 L88.62,285.74 L90.02,285.74 L91.42,285.74 L92.81,285.74 L94.21,285.74 L95.60,285.74 L97.00,285.75 L98.39,285.75 L99.79,285.75 L101.19,285.75 L102.58,285.75 L103.98,285.75 L105.37,285.75 L106.77,285.76 L108.16,285.76 L109.56,285.76 L110.96,285.76 L112.35,285.77 L113.75,285.77 L115.14,285.77 L116.54,285.77 L117.93,285.78 L119.33,285.78 L120.73,285.79 L122.12,285.79 L123.52,285.79 L124.91,285.80 L126.31,285.81 L127.70,285.81 L129.10,285.82 L130.50,285.82 L131.89,285.83 L133.29,285.84 L134.68,285.85 L136.08,285.86 L137.47,285.87 L138.87,285.88 L140.27,285.89 L141.66,285.90 L143.06,285.92 L144.45,285.93 L145.85,285.95 L147.24,285.97 L148.64,285.99 L150.04,286.01 L151.43,286.03 L152.83,286.05 L154.22,286.08 L155.62,286.10 L157.02,286.13 L158.41,286.16 L159.81,286.20 L161.20,286.24 L162.60,286.28 L163.99,286.32 L165.39,286.36 L166.79,286.41 L168.18,286.47 L169.58,286.53 L170.97,286.59 L172.37,286.65 L173.76,286.73 L175.16,286.80 L176.56,286.89 L177.95,286.97 L179.35,287.07 L180.74,287.17 L182.14,287.28 L183.53,287.40 L184.93,287.53 L186.33,287.66 L187.72,287.81 L189.12,287.97 L190.51,288.13 L191.91,288.31 L193.30,288.50 L194.70,288.70 L196.10,288.92 L197.49,289.15 L198.89,289.40 L200.28,289.66 L201.68,289.94 L203.07,290.23 L204.47,290.55 L205.87,290.88 L207.26,291.23 L208.66,291.60 L210.05,291.99 L211.45,292.41 L212.84,292.84 L214.24,293.30 L215.64,293.78 L217.03,294.29 L218.43,294.81 L219.82,295.37 L221.22,295.95 L222.62,296.55 L224.01,297.18 L225.41,297.83 L226.80,298.50 L228.20,299.21 L229.59,299.93 L230.99,300.69 L232.39,301.46 L233.78,302.26 L235.18,303.08 L236.57,303.93 L237.97,304.80 L239.36,305.69 L240.76,306.60 L242.16,307.53 L243.55,308.48 L244.95,309.46 L246.34,310.45 L247.74,311.45 L249.13,312.48 L250.53,313.52 L251.93,314.58 L253.32,315.65 L254.72,316.73 L256.11,317.83 L257.51,318.94 L258.90,320.07 L260.30,321.20 L261.70,322.35 L263.09,323.50 L264.49,324.67 L265.88,325.84 L267.28,327.03 L268.67,328.22 L270.07,329.42 L271.47,330.62 L272.86,331.83 L274.26,333.05 L275.65,334.27 L277.05,335.50 L278.44,336.74 L279.84,337.98 L281.24,339.22 L282.63,340.46 L284.03,341.72 L285.42,342.97 L286.82,344.23 L288.21,345.49 L289.61,346.75 L291.01,348.02 L292.40,349.28 L293.80,350.55 L295.19,351.83 L296.59,353.10 L297.99,354.38 L299.38,355.66 L300.78,356.94 L302.17,358.22 L303.57,359.50 L304.96,360.78 L306.36,362.07 L307.76,363.35 L309.15,364.64 L310.55,365.93 L311.94,367.22 L313.34,368.51 L314.73,369.80 L316.13,371.09 L317.53,372.38 L318.92,373.67 L320.32,374.96 L321.71,376.26 L323.11,377.55 L324.50,378.84 L325.90,380.14 L327.30,381.43 L328.69,382.73 L330.09,384.02 L331.48,385.32 L332.88,386.62 L334.27,387.91 L335.67,389.21 L337.07,390.51 L338.46,391.80 L339.86,393.10 L341.25,394.40 L342.65,395.69 L344.04,396.99 L345.44,398.29 L346.84,399.59 L348.23,400.89 L349.63,402.18 L351.02,403.48 L352.42,404.78 L353.81,406.08 L355.21,407.38 L356.61,408.68 L358.00,409.97 L359.40,411.27 L360.79,412.57 L362.19,413.87 L363.59,415.17 L364.98,416.47 L366.38,417.77 L367.77,419.07 L369.17,420.36 L370.56,421.66 L371.96,422.96 L373.36,424.26 L374.75,425.56 L376.15,426.86 L377.54,428.16 L378.94,429.46 L380.33,430.76 L381.73,432.06 L383.13,433.36 L384.52,434.66 L385.92,435.95 L387.31,437.25 L388.71,438.55 L390.10,439.85 L391.50,441.15 L392.90,442.45 L394.29,443.75 L395.69,445.05 L397.08,446.35 L398.48,447.65 L399.87,448.95 L401.27,450.25 L402.67,451.55 L404.06,452.85 L405.46,454.15 L406.85,455.44 L408.25,456.74 L409.64,458.04 L411.04,459.34 L412.44,460.64 L413.83,461.94 L415.23,463.24 L416.62,464.54 L418.02,465.84 L419.41,467.14 L420.81,468.44 L422.21,469.74 L423.60,471.04 L425.00,472.34 L426.39,473.64 L427.79,474.94 L429.19,476.24" stroke="#000000" stroke-width="3.3"/>
<path d="M263.80,272.50L428.60,314.90" stroke="#00ad00" stroke-width="2.1" stroke-dasharray="6.6 2.0"/>
<path d="M263.80,289.30L300.50,308.20" stroke="#a80000" stroke-width="2.1" stroke-dasharray="6.6 2.0"/>
</g>
<rect x="62.4" y="256.05" width="372.65000000000003" height="230.45" fill="none" stroke="#000" stroke-width="1.8"/>
<path d="M63.3,282.20h2.6 M63.3,272.08h1.3 M63.3,266.15h1.3 M63.3,261.95h1.3 M63.3,258.69h1.3 M63.3,315.83h2.6 M63.3,305.71h1.3 M63.3,299.78h1.3 M63.3,295.58h1.3 M63.3,292.32h1.3 M63.3,289.66h1.3 M63.3,287.41h1.3 M63.3,285.46h1.3 M63.3,283.74h1.3 M63.3,349.46h2.6 M63.3,339.34h1.3 M63.3,333.41h1.3 M63.3,329.21h1.3 M63.3,325.95h1.3 M63.3,323.29h1.3 M63.3,321.04h1.3 M63.3,319.09h1.3 M63.3,317.37h1.3 M63.3,383.09h2.6 M63.3,372.97h1.3 M63.3,367.04h1.3 M63.3,362.84h1.3 M63.3,359.58h1.3 M63.3,356.92h1.3 M63.3,354.67h1.3 M63.3,352.72h1.3 M63.3,351.00h1.3 M63.3,416.72h2.6 M63.3,406.60h1.3 M63.3,400.67h1.3 M63.3,396.47h1.3 M63.3,393.21h1.3 M63.3,390.55h1.3 M63.3,388.30h1.3 M63.3,386.35h1.3 M63.3,384.63h1.3 M63.3,450.35h2.6 M63.3,440.23h1.3 M63.3,434.30h1.3 M63.3,430.10h1.3 M63.3,426.84h1.3 M63.3,424.18h1.3 M63.3,421.93h1.3 M63.3,419.98h1.3 M63.3,418.26h1.3 M63.3,483.98h2.6 M63.3,473.86h1.3 M63.3,467.93h1.3 M63.3,463.73h1.3 M63.3,460.47h1.3 M63.3,457.81h1.3 M63.3,455.56h1.3 M63.3,453.61h1.3 M63.3,451.89h1.3" stroke="#000" stroke-width="1.1" fill="none"/>
<path d="M69.80,485.6v-2.7 M102.30,485.6v-1.4 M134.80,485.6v-2.7 M167.30,485.6v-1.4 M199.80,485.6v-2.7 M232.30,485.6v-1.4 M264.80,485.6v-2.7 M297.30,485.6v-1.4 M329.80,485.6v-2.7 M362.30,485.6v-1.4 M394.80,485.6v-2.7 M427.30,485.6v-1.4" stroke="#000" stroke-width="1.2" fill="none"/>
<text transform="translate(24.8,291.60) scale(0.93,1)" font-size="23.2">10<tspan font-size="13.6" dy="-6.4">-2</tspan></text>
<text transform="translate(24.8,325.23) scale(0.93,1)" font-size="23.2">10<tspan font-size="13.6" dy="-6.4">-3</tspan></text>
<text transform="translate(24.8,358.86) scale(0.93,1)" font-size="23.2">10<tspan font-size="13.6" dy="-6.4">-4</tspan></text>
<text transform="translate(24.8,392.49) scale(0.93,1)" font-size="23.2">10<tspan font-size="13.6" dy="-6.4">-5</tspan></text>
<text transform="translate(24.8,426.12) scale(0.93,1)" font-size="23.2">10<tspan font-size="13.6" dy="-6.4">-6</tspan></text>
<text transform="translate(24.8,459.75) scale(0.93,1)" font-size="23.2">10<tspan font-size="13.6" dy="-6.4">-7</tspan></text>
<clipPath id="c2"><rect x="62.4" y="493.05" width="372.65000000000003" height="229.8"/></clipPath>
<g clip-path="url(#c2)" fill="none" stroke-linejoin="round">
<path d="M67.69,506.19 L69.08,506.20 L70.48,506.21 L71.87,506.22 L73.27,506.23 L74.67,506.24 L76.06,506.26 L77.46,506.27 L78.85,506.28 L80.25,506.30 L81.64,506.31 L83.04,506.32 L84.44,506.34 L85.83,506.35 L87.23,506.37 L88.62,506.38 L90.02,506.40 L91.42,506.42 L92.81,506.43 L94.21,506.45 L95.60,506.47 L97.00,506.48 L98.39,506.50 L99.79,506.52 L101.19,506.54 L102.58,506.56 L103.98,506.58 L105.37,506.60 L106.77,506.62 L108.16,506.65 L109.56,506.67 L110.96,506.69 L112.35,506.72 L113.75,506.74 L115.14,506.77 L116.54,506.79 L117.93,506.82 L119.33,506.85 L120.73,506.87 L122.12,506.90 L123.52,506.93 L124.91,506.96 L126.31,506.99 L127.70,507.02 L129.10,507.05 L130.50,507.09 L131.89,507.12 L133.29,507.16 L134.68,507.19 L136.08,507.23 L137.47,507.26 L138.87,507.30 L140.27,507.34 L141.66,507.38 L143.06,507.42 L144.45,507.46 L145.85,507.51 L147.24,507.55 L148.64,507.60 L150.04,507.64 L151.43,507.69 L152.83,507.74 L154.22,507.79 L155.62,507.84 L157.02,507.89 L158.41,507.94 L159.81,508.00 L161.20,508.05 L162.60,508.11 L163.99,508.16 L165.39,508.22 L166.79,508.28 L168.18,508.35 L169.58,508.41 L170.97,508.47 L172.37,508.54 L173.76,508.61 L175.16,508.68 L176.56,508.75 L177.95,508.82 L179.35,508.89 L180.74,508.97 L182.14,509.05 L183.53,509.12 L184.93,509.20 L186.33,509.29 L187.72,509.37 L189.12,509.45 L190.51,509.54 L191.91,509.63 L193.30,509.72 L194.70,509.81 L196.10,509.91 L197.49,510.00 L198.89,510.10 L200.28,510.20 L201.68,510.30 L203.07,510.41 L204.47,510.51 L205.87,510.62 L207.26,510.73 L208.66,510.84 L210.05,510.96 L211.45,511.07 L212.84,511.19 L214.24,511.31 L215.64,511.44 L217.03,511.56 L218.43,511.69 L219.82,511.82 L221.22,511.95 L222.62,512.08 L224.01,512.22 L225.41,512.36 L226.80,512.50 L228.20,512.64 L229.59,512.79 L230.99,512.93 L232.39,513.08 L233.78,513.23 L235.18,513.39 L236.57,513.55 L237.97,513.71 L239.36,513.87 L240.76,514.03 L242.16,514.20 L243.55,514.37 L244.95,514.54 L246.34,514.71 L247.74,514.89 L249.13,515.07 L250.53,515.25 L251.93,515.43 L253.32,515.62 L254.72,515.80 L256.11,515.99 L257.51,516.19 L258.90,516.38 L260.30,516.58 L261.70,516.78 L263.09,516.98 L264.49,517.19 L265.88,517.39 L267.28,517.60 L268.67,517.82 L270.07,518.03 L271.47,518.25 L272.86,518.47 L274.26,518.69 L275.65,518.91 L277.05,519.14 L278.44,519.36 L279.84,519.59 L281.24,519.83 L282.63,520.06 L284.03,520.30 L285.42,520.54 L286.82,520.78 L288.21,521.02 L289.61,521.27 L291.01,521.51 L292.40,521.76 L293.80,522.01 L295.19,522.27 L296.59,522.52 L297.99,522.78 L299.38,523.04 L300.78,523.30 L302.17,523.56 L303.57,523.83 L304.96,524.09 L306.36,524.36 L307.76,524.63 L309.15,524.91 L310.55,525.18 L311.94,525.46 L313.34,525.73 L314.73,526.01 L316.13,526.29 L317.53,526.58 L318.92,526.86 L320.32,527.15 L321.71,527.43 L323.11,527.72 L324.50,528.01 L325.90,528.30 L327.30,528.60 L328.69,528.89 L330.09,529.19 L331.48,529.48 L332.88,529.78 L334.27,530.08 L335.67,530.38 L337.07,530.69 L338.46,530.99 L339.86,531.30 L341.25,531.60 L342.65,531.91 L344.04,532.22 L345.44,532.53 L346.84,532.84 L348.23,533.15 L349.63,533.47 L351.02,533.78 L352.42,534.10 L353.81,534.41 L355.21,534.73 L356.61,535.05 L358.00,535.37 L359.40,535.69 L360.79,536.01 L362.19,536.33 L363.59,536.65 L364.98,536.98 L366.38,537.30 L367.77,537.63 L369.17,537.95 L370.56,538.28 L371.96,538.61 L373.36,538.94 L374.75,539.27 L376.15,539.60 L377.54,539.93 L378.94,540.26 L380.33,540.59 L381.73,540.92 L383.13,541.26 L384.52,541.59 L385.92,541.93 L387.31,542.26 L388.71,542.60 L390.10,542.93 L391.50,543.27 L392.90,543.61 L394.29,543.95 L395.69,544.29 L397.08,544.62 L398.48,544.96 L399.87,545.30 L401.27,545.65 L402.67,545.99 L404.06,546.33 L405.46,546.67 L406.85,547.01 L408.25,547.36 L409.64,547.70 L411.04,548.04 L412.44,548.39 L413.83,548.73 L415.23,549.08 L416.62,549.42 L418.02,549.77 L419.41,550.11 L420.81,550.46 L422.21,550.81 L423.60,551.15 L425.00,551.50 L426.39,551.85 L427.79,552.19 L429.19,552.54" stroke="#00ad00" stroke-width="3.3"/>
<path d="M67.69,504.25 L69.08,504.26 L70.48,504.26 L71.87,504.26 L73.27,504.26 L74.67,504.27 L76.06,504.27 L77.46,504.27 L78.85,504.28 L80.25,504.28 L81.64,504.28 L83.04,504.29 L84.44,504.29 L85.83,504.30 L87.23,504.30 L88.62,504.31 L90.02,504.31 L91.42,504.32 L92.81,504.32 L94.21,504.33 L95.60,504.34 L97.00,504.35 L98.39,504.35 L99.79,504.36 L101.19,504.37 L102.58,504.38 L103.98,504.39 L105.37,504.40 L106.77,504.41 L108.16,504.42 L109.56,504.43 L110.96,504.45 L112.35,504.46 L113.75,504.47 L115.14,504.49 L116.54,504.51 L117.93,504.52 L119.33,504.54 L120.73,504.56 L122.12,504.58 L123.52,504.60 L124.91,504.62 L126.31,504.65 L127.70,504.67 L129.10,504.70 L130.50,504.73 L131.89,504.76 L133.29,504.79 L134.68,504.82 L136.08,504.86 L137.47,504.89 L138.87,504.93 L140.27,504.97 L141.66,505.02 L143.06,505.06 L144.45,505.11 L145.85,505.16 L147.24,505.22 L148.64,505.27 L150.04,505.33 L151.43,505.40 L152.83,505.46 L154.22,505.53 L155.62,505.61 L157.02,505.68 L158.41,505.77 L159.81,505.85 L161.20,505.94 L162.60,506.04 L163.99,506.14 L165.39,506.24 L166.79,506.35 L168.18,506.47 L169.58,506.59 L170.97,506.72 L172.37,506.85 L173.76,506.99 L175.16,507.13 L176.56,507.29 L177.95,507.45 L179.35,507.61 L180.74,507.79 L182.14,507.97 L183.53,508.16 L184.93,508.36 L186.33,508.57 L187.72,508.78 L189.12,509.00 L190.51,509.24 L191.91,509.48 L193.30,509.73 L194.70,509.99 L196.10,510.26 L197.49,510.54 L198.89,510.83 L200.28,511.13 L201.68,511.44 L203.07,511.76 L204.47,512.09 L205.87,512.43 L207.26,512.78 L208.66,513.14 L210.05,513.51 L211.45,513.90 L212.84,514.29 L214.24,514.69 L215.64,515.10 L217.03,515.52 L218.43,515.96 L219.82,516.40 L221.22,516.85 L222.62,517.31 L224.01,517.78 L225.41,518.26 L226.80,518.75 L228.20,519.25 L229.59,519.75 L230.99,520.27 L232.39,520.79 L233.78,521.32 L235.18,521.86 L236.57,522.41 L237.97,522.96 L239.36,523.52 L240.76,524.09 L242.16,524.67 L243.55,525.25 L244.95,525.84 L246.34,526.43 L247.74,527.03 L249.13,527.63 L250.53,528.24 L251.93,528.86 L253.32,529.48 L254.72,530.10 L256.11,530.73 L257.51,531.37 L258.90,532.01 L260.30,532.65 L261.70,533.29 L263.09,533.94 L264.49,534.60 L265.88,535.25 L267.28,535.91 L268.67,536.58 L270.07,537.24 L271.47,537.91 L272.86,538.58 L274.26,539.25 L275.65,539.93 L277.05,540.61 L278.44,541.29 L279.84,541.97 L281.24,542.65 L282.63,543.34 L284.03,544.03 L285.42,544.72 L286.82,545.41 L288.21,546.10 L289.61,546.79 L291.01,547.49 L292.40,548.18 L293.80,548.88 L295.19,549.58 L296.59,550.28 L297.99,550.98 L299.38,551.68 L300.78,552.38 L302.17,553.09 L303.57,553.79 L304.96,554.50 L306.36,555.20 L307.76,555.91 L309.15,556.62 L310.55,557.32 L311.94,558.03 L313.34,558.74 L314.73,559.45 L316.13,560.16 L317.53,560.87 L318.92,561.58 L320.32,562.29 L321.71,563.00 L323.11,563.71 L324.50,564.43 L325.90,565.14 L327.30,565.85 L328.69,566.57 L330.09,567.28 L331.48,567.99 L332.88,568.71 L334.27,569.42 L335.67,570.14 L337.07,570.85 L338.46,571.56 L339.86,572.28 L341.25,572.99 L342.65,573.71 L344.04,574.43 L345.44,575.14 L346.84,575.86 L348.23,576.57 L349.63,577.29 L351.02,578.01 L352.42,578.72 L353.81,579.44 L355.21,580.16 L356.61,580.87 L358.00,581.59 L359.40,582.31 L360.79,583.02 L362.19,583.74 L363.59,584.46 L364.98,585.17 L366.38,585.89 L367.77,586.61 L369.17,587.33 L370.56,588.04 L371.96,588.76 L373.36,589.48 L374.75,590.19 L376.15,590.91 L377.54,591.63 L378.94,592.35 L380.33,593.07 L381.73,593.78 L383.13,594.50 L384.52,595.22 L385.92,595.94 L387.31,596.65 L388.71,597.37 L390.10,598.09 L391.50,598.81 L392.90,599.53 L394.29,600.24 L395.69,600.96 L397.08,601.68 L398.48,602.40 L399.87,603.12 L401.27,603.83 L402.67,604.55 L404.06,605.27 L405.46,605.99 L406.85,606.71 L408.25,607.42 L409.64,608.14 L411.04,608.86 L412.44,609.58 L413.83,610.30 L415.23,611.01 L416.62,611.73 L418.02,612.45 L419.41,613.17 L420.81,613.89 L422.21,614.60 L423.60,615.32 L425.00,616.04 L426.39,616.76 L427.79,617.48 L429.19,618.20" stroke="#a80000" stroke-width="3.3"/>
<path d="M67.69,512.16 L69.08,512.16 L70.48,512.16 L71.87,512.16 L73.27,512.16 L74.67,512.16 L76.06,512.16 L77.46,512.16 L78.85,512.17 L80.25,512.17 L81.64,512.17 L83.04,512.17 L84.44,512.17 L85.83,512.18 L87.23,512.18 L88.62,512.18 L90.02,512.19 L91.42,512.19 L92.81,512.19 L94.21,512.20 L95.60,512.20 L97.00,512.20 L98.39,512.21 L99.79,512.21 L101.19,512.22 L102.58,512.23 L103.98,512.23 L105.37,512.24 L106.77,512.25 L108.16,512.25 L109.56,512.26 L110.96,512.27 L112.35,512.28 L113.75,512.29 L115.14,512.30 L116.54,512.31 L117.93,512.33 L119.33,512.34 L120.73,512.35 L122.12,512.37 L123.52,512.39 L124.91,512.40 L126.31,512.42 L127.70,512.44 L129.10,512.47 L130.50,512.49 L131.89,512.52 L133.29,512.54 L134.68,512.57 L136.08,512.60 L137.47,512.64 L138.87,512.67 L140.27,512.71 L141.66,512.75 L143.06,512.80 L144.45,512.85 L145.85,512.90 L147.24,512.95 L148.64,513.01 L150.04,513.08 L151.43,513.14 L152.83,513.22 L154.22,513.29 L155.62,513.38 L157.02,513.47 L158.41,513.56 L159.81,513.67 L161.20,513.77 L162.60,513.89 L163.99,514.02 L165.39,514.15 L166.79,514.29 L168.18,514.45 L169.58,514.61 L170.97,514.79 L172.37,514.97 L173.76,515.17 L175.16,515.38 L176.56,515.61 L177.95,515.85 L179.35,516.11 L180.74,516.38 L182.14,516.68 L183.53,516.99 L184.93,517.32 L186.33,517.67 L187.72,518.04 L189.12,518.44 L190.51,518.86 L191.91,519.30 L193.30,519.77 L194.70,520.27 L196.10,520.80 L197.49,521.35 L198.89,521.94 L200.28,522.56 L201.68,523.21 L203.07,523.90 L204.47,524.62 L205.87,525.38 L207.26,526.18 L208.66,527.01 L210.05,527.89 L211.45,528.81 L212.84,529.76 L214.24,530.76 L215.64,531.80 L217.03,532.89 L218.43,534.02 L219.82,535.20 L221.22,536.42 L222.62,537.69 L224.01,539.00 L225.41,540.36 L226.80,541.77 L228.20,543.23 L229.59,544.73 L230.99,546.29 L232.39,547.90 L233.78,549.56 L235.18,551.27 L236.57,553.03 L237.97,554.85 L239.36,556.72 L240.76,558.66 L242.16,560.65 L243.55,562.71 L244.95,564.84 L246.34,567.05 L247.74,569.33 L249.13,571.71 L250.53,574.18 L251.31,575.60 L251.93,576.77 L253.32,579.48 L254.25,581.37 L254.72,582.35 L256.11,585.40 L256.66,586.65 L257.51,588.68 L258.63,591.53 L258.90,592.25 L260.25,596.06 L260.30,596.20 L261.58,600.31 L261.70,600.71 L262.67,604.31 L263.09,606.06 L263.56,608.12 L264.29,611.77 L264.49,612.89 L264.88,615.28 L265.37,618.68 L265.77,621.98 L265.88,622.99 L266.10,625.22 L266.37,628.39 L266.59,631.51 L266.77,634.60 L266.92,637.64 L267.04,640.66 L267.14,643.66 L267.23,646.64 L267.28,648.97 L267.29,649.60 L267.35,652.55 L267.39,655.49 L267.43,658.43 L267.46,661.35 L267.48,664.27 L267.50,667.19 L267.52,670.10 L267.53,673.01 L267.54,675.91 L267.55,678.81 L267.56,681.72 L267.57,684.62 L267.57,687.52 L267.58,690.41 L267.58,693.31 L267.58,696.21 L267.58,699.11 L267.59,702.00 L267.59,702.90 L267.59,702.90 L267.59,702.90 L267.59,702.90 L267.59,702.90 L267.59,702.90 L267.59,702.90 L267.59,702.90 L267.59,702.90 L267.59,702.90 L267.59,702.90 L267.59,702.90 L267.59,702.90 L267.59,702.90 L267.59,702.90 L267.59,702.90 L267.59,702.90 L267.59,702.90 L267.59,702.90 L267.59,702.90 L267.59,702.90 L267.59,702.90 L267.59,702.90 L267.59,702.90 L267.59,702.90 L267.59,702.90 L267.59,702.90 L267.59,702.90 L267.59,702.90 L267.59,702.90 L267.59,702.90 L267.59,702.90 L267.59,702.90 L267.59,702.90 L267.59,702.90 L267.59,702.90 L267.59,702.90 L267.59,702.90 L267.59,702.90 L267.59,702.90 L267.59,702.90 L267.59,702.90 L267.59,702.90 L267.59,702.90 L267.59,702.90 L267.59,702.90 L267.59,702.90 L267.59,702.90 L267.59,702.90 L267.59,702.90 L267.59,702.90 L267.60,702.90 L267.60,702.90 L267.60,702.90 L267.60,702.90 L267.60,702.90 L267.60,702.90 L267.60,702.90 L267.60,702.90 L267.60,702.90 L267.60,702.90 L267.60,702.90 L267.60,702.90 L267.60,702.90 L267.60,702.90 L267.60,702.90 L267.60,702.90 L267.60,702.90 L267.60,702.90 L267.60,702.90 L267.60,702.90 L267.60,702.90 L267.60,702.90 L267.60,702.90 L267.60,702.90 L267.60,702.90 L267.60,702.90 L267.60,702.90 L267.60,702.90 L267.60,702.90 L267.60,702.90 L267.60,702.90 L267.60,702.90 L267.60,702.90 L267.60,702.90 L267.60,702.90 L267.60,702.90 L267.60,702.90 L267.60,702.90 L267.60,702.90 L267.60,702.90 L267.60,702.90 L267.60,702.90 L267.60,702.90 L267.60,702.90 L267.60,702.90 L267.60,702.90 L267.60,702.90 L267.60,702.90 L267.60,702.90 L267.60,702.90 L267.60,702.90 L267.60,702.02 L267.61,699.13 L267.61,696.23 L267.61,693.34 L267.61,690.45 L267.62,687.56 L267.62,684.67 L267.63,681.79 L267.64,678.90 L267.65,676.02 L267.66,673.13 L267.67,670.25 L267.69,667.38 L267.71,664.50 L267.73,661.64 L267.76,658.77 L267.80,655.92 L267.84,653.07 L267.90,650.23 L267.96,647.41 L268.05,644.60 L268.15,641.81 L268.27,639.04 L268.42,636.30 L268.60,633.60 L268.67,632.59 L268.82,630.93 L269.09,628.32 L269.42,625.77 L269.82,623.29 L270.07,621.99 L270.31,620.91 L270.90,618.64 L271.47,616.95 L271.63,616.51 L272.52,614.54 L272.86,613.94 L273.61,612.79 L274.26,611.98 L274.94,611.29 L275.65,610.68 L276.56,610.09 L277.05,609.83 L278.44,609.29 L278.53,609.27 L279.84,609.00 L280.94,608.91 L281.24,608.90 L282.63,608.95 L283.88,609.10 L284.03,609.12 L285.42,609.40 L286.82,609.77 L288.21,610.21 L289.61,610.71 L291.01,611.28 L292.40,611.89 L293.80,612.54 L295.19,613.24 L296.59,613.96 L297.99,614.72 L299.38,615.51 L300.78,616.32 L302.17,617.15 L303.57,618.00 L304.96,618.87 L306.36,619.76 L307.76,620.66 L309.15,621.58 L310.55,622.51 L311.94,623.45 L313.34,624.40 L314.73,625.36 L316.13,626.33 L317.53,627.31 L318.92,628.29 L320.32,629.28 L321.71,630.28 L323.11,631.29 L324.50,632.30 L325.90,633.31 L327.30,634.33 L328.69,635.36 L330.09,636.38 L331.48,637.41 L332.88,638.45 L334.27,639.49 L335.67,640.53 L337.07,641.57 L338.46,642.62 L339.86,643.67 L341.25,644.72 L342.65,645.77 L344.04,646.82 L345.44,647.88 L346.84,648.93 L348.23,649.99 L349.63,651.05 L351.02,652.11 L352.42,653.18 L353.81,654.24 L355.21,655.30 L356.61,656.37 L358.00,657.44 L359.40,658.50 L360.79,659.57 L362.19,660.64 L363.59,661.71 L364.98,662.78 L366.38,663.85 L367.77,664.92 L369.17,665.99 L370.56,667.06 L371.96,668.13 L373.36,669.21 L374.75,670.28 L376.15,671.35 L377.54,672.43 L378.94,673.50 L380.33,674.57 L381.73,675.65 L383.13,676.72 L384.52,677.80 L385.92,678.87 L387.31,679.95 L388.71,681.02 L390.10,682.10 L391.50,683.17 L392.90,684.25 L394.29,685.33 L395.69,686.40 L397.08,687.48 L398.48,688.55 L399.87,689.63 L401.27,690.71 L402.67,691.78 L404.06,692.86 L405.46,693.93 L406.85,695.01 L408.25,696.09 L409.64,697.16 L411.04,698.24 L412.44,699.32 L413.83,700.40 L415.23,701.47 L416.62,702.55 L418.02,703.63 L419.41,704.70 L420.81,705.78 L422.21,706.86 L423.60,707.93 L425.00,709.01 L426.39,710.09 L427.79,711.17 L429.19,712.24" stroke="#0000ff" stroke-width="3.3"/>
<path d="M67.69,526.06 L69.08,526.06 L70.48,526.06 L71.87,526.06 L73.27,526.06 L74.67,526.06 L76.06,526.06 L77.46,526.06 L78.85,526.06 L80.25,526.06 L81.64,526.06 L83.04,526.06 L84.44,526.06 L85.83,526.06 L87.23,526.06 L88.62,526.06 L90.02,526.06 L91.42,526.07 L92.81,526.07 L94.21,526.07 L95.60,526.07 L97.00,526.07 L98.39,526.07 L99.79,526.07 L101.19,526.07 L102.58,526.08 L103.98,526.08 L105.37,526.08 L106.77,526.08 L108.16,526.08 L109.56,526.09 L110.96,526.09 L112.35,526.09 L113.75,526.10 L115.14,526.10 L116.54,526.10 L117.93,526.11 L119.33,526.11 L120.73,526.12 L122.12,526.12 L123.52,526.13 L124.91,526.14 L126.31,526.14 L127.70,526.15 L129.10,526.16 L130.50,526.17 L131.89,526.18 L133.29,526.20 L134.68,526.21 L136.08,526.22 L137.47,526.24 L138.87,526.26 L140.27,526.27 L141.66,526.29 L143.06,526.32 L144.45,526.34 L145.85,526.37 L147.24,526.40 L148.64,526.43 L150.04,526.46 L151.43,526.50 L152.83,526.54 L154.22,526.59 L155.62,526.64 L157.02,526.70 L158.41,526.76 L159.81,526.82 L161.20,526.89 L162.60,526.97 L163.99,527.06 L165.39,527.16 L166.79,527.26 L168.18,527.37 L169.58,527.50 L170.97,527.63 L172.37,527.78 L173.76,527.95 L175.16,528.13 L176.56,528.32 L177.95,528.54 L179.35,528.77 L180.74,529.03 L182.14,529.32 L183.53,529.63 L184.93,529.97 L186.33,530.35 L187.72,530.76 L189.12,531.22 L190.51,531.72 L191.91,532.27 L193.30,532.88 L194.70,533.56 L196.10,534.31 L197.49,535.14 L198.89,536.06 L200.28,537.09 L200.61,537.35 L201.68,538.25 L203.07,539.55 L203.55,540.03 L204.47,541.03 L205.87,542.72 L205.96,542.84 L207.26,544.67 L207.93,545.73 L208.66,546.96 L209.55,548.66 L210.05,549.71 L210.88,551.63 L211.45,553.11 L211.97,554.60 L212.84,557.54 L212.86,557.58 L213.59,560.56 L214.18,563.53 L214.24,563.84 L214.67,566.49 L215.07,569.44 L215.40,572.38 L215.64,574.89 L215.67,575.32 L215.89,578.25 L216.07,581.18 L216.22,584.10 L216.34,587.01 L216.44,589.92 L216.53,592.83 L216.59,595.74 L216.65,598.64 L216.69,601.55 L216.73,604.45 L216.76,607.35 L216.78,610.24 L216.80,613.14 L216.82,616.04 L216.83,618.94 L216.84,621.83 L216.85,624.73 L216.86,627.62 L216.87,630.52 L216.87,633.41 L216.88,636.31 L216.88,639.20 L216.88,642.10 L216.88,644.99 L216.89,647.89 L216.89,650.78 L216.89,653.67 L216.89,656.57 L216.89,659.46 L216.89,662.36 L216.89,665.25 L216.89,668.14 L216.89,671.04 L216.89,673.93 L216.89,676.83 L216.89,679.72 L216.89,682.61 L216.89,685.51 L216.89,688.40 L216.89,691.30 L216.89,693.40 L216.89,693.40 L216.89,693.40 L216.89,693.40 L216.89,693.40 L216.89,693.40 L216.89,693.40 L216.89,693.40 L216.89,693.40 L216.89,693.40 L216.89,693.40 L216.89,693.40 L216.89,693.40 L216.89,693.40 L216.89,693.40 L216.89,693.40 L216.89,693.40 L216.89,693.40 L216.89,693.40 L216.89,693.40 L216.89,693.40 L216.89,693.40 L216.89,693.40 L216.89,693.40 L216.89,693.40 L216.89,693.40 L216.89,693.40 L216.89,693.40 L216.89,693.40 L216.89,693.40 L216.89,693.40 L216.89,693.40 L216.89,693.40 L216.89,693.40 L216.89,693.40 L216.89,693.40 L216.90,693.40 L216.90,693.40 L216.90,693.40 L216.90,693.40 L216.90,693.40 L216.90,693.40 L216.90,693.40 L216.90,693.40 L216.90,693.40 L216.90,693.40 L216.90,693.40 L216.90,693.40 L216.90,693.40 L216.90,693.40 L216.90,693.40 L216.90,693.40 L216.90,693.40 L216.90,693.40 L216.90,693.40 L216.90,693.40 L216.90,693.40 L216.90,693.40 L216.90,693.40 L216.90,693.40 L216.90,693.40 L216.90,693.40 L216.90,693.40 L216.90,693.40 L216.90,693.40 L216.90,693.40 L216.90,693.40 L216.90,693.40 L216.90,693.40 L216.90,693.40 L216.90,693.40 L216.90,693.40 L216.90,691.30 L216.90,688.40 L216.90,685.51 L216.90,682.62 L216.90,679.72 L216.90,676.83 L216.90,673.93 L216.90,671.04 L216.90,668.15 L216.90,665.25 L216.90,662.36 L216.90,659.46 L216.90,656.57 L216.90,653.68 L216.90,650.78 L216.90,647.89 L216.91,645.00 L216.91,642.10 L216.91,639.21 L216.91,636.31 L216.92,633.42 L216.92,630.53 L216.93,627.64 L216.94,624.74 L216.95,621.85 L216.96,618.96 L216.97,616.07 L216.99,613.18 L217.01,610.29 L217.03,607.40 L217.03,607.35 L217.06,604.51 L217.10,601.62 L217.14,598.74 L217.20,595.85 L217.26,592.97 L217.35,590.10 L217.45,587.22 L217.57,584.35 L217.72,581.49 L217.90,578.63 L218.12,575.79 L218.39,572.95 L218.43,572.57 L218.72,570.13 L219.12,567.33 L219.61,564.56 L219.82,563.50 L220.20,561.82 L220.93,559.13 L221.22,558.22 L221.82,556.50 L222.62,554.59 L222.91,553.95 L224.01,551.90 L224.24,551.52 L225.41,549.82 L225.86,549.26 L226.80,548.19 L227.83,547.22 L228.20,546.91 L229.59,545.89 L230.24,545.50 L230.99,545.10 L232.39,544.50 L233.18,544.23 L233.78,544.06 L235.18,543.78 L236.57,543.62 L237.97,543.57 L239.36,543.64 L240.76,543.80 L242.16,544.05 L243.55,544.38 L244.95,544.78 L246.34,545.26 L247.74,545.80 L249.13,546.40 L250.53,547.05 L251.93,547.75 L253.32,548.50 L254.72,549.29 L256.11,550.13 L257.51,551.00 L258.90,551.90 L260.30,552.84 L261.70,553.80 L263.09,554.79 L264.49,555.81 L265.88,556.85 L267.28,557.91 L268.67,558.99 L270.07,560.08 L271.47,561.20 L272.86,562.33 L274.26,563.47 L275.65,564.62 L277.05,565.79 L278.44,566.97 L279.84,568.16 L281.24,569.35 L282.63,570.56 L284.03,571.77 L285.42,572.99 L286.82,574.21 L288.21,575.44 L289.61,576.68 L291.01,577.92 L292.40,579.16 L293.80,580.41 L295.19,581.67 L296.59,582.92 L297.99,584.18 L299.38,585.45 L300.78,586.71 L302.17,587.98 L303.57,589.25 L304.96,590.52 L306.36,591.79 L307.76,593.07 L309.15,594.35 L310.55,595.62 L311.94,596.90 L313.34,598.18 L314.73,599.46 L316.13,600.75 L317.53,602.03 L318.92,603.31 L320.32,604.60 L321.71,605.89 L323.11,607.17 L324.50,608.46 L325.90,609.75 L327.30,611.03 L328.69,612.32 L330.09,613.61 L331.48,614.90 L332.88,616.19 L334.27,617.48 L335.67,618.77 L337.07,620.06 L338.46,621.35 L339.86,622.64 L341.25,623.93 L342.65,625.22 L344.04,626.51 L345.44,627.80 L346.84,629.10 L348.23,630.39 L349.63,631.68 L351.02,632.97 L352.42,634.26 L353.81,635.56 L355.21,636.85 L356.61,638.14 L358.00,639.43 L359.40,640.72 L360.79,642.02 L362.19,643.31 L363.59,644.60 L364.98,645.89 L366.38,647.19 L367.77,648.48 L369.17,649.77 L370.56,651.06 L371.96,652.36 L373.36,653.65 L374.75,654.94 L376.15,656.23 L377.54,657.53 L378.94,658.82 L380.33,660.11 L381.73,661.41 L383.13,662.70 L384.52,663.99 L385.92,665.28 L387.31,666.58 L388.71,667.87 L390.10,669.16 L391.50,670.45 L392.90,671.75 L394.29,673.04 L395.69,674.33 L397.08,675.63 L398.48,676.92 L399.87,678.21 L401.27,679.50 L402.67,680.80 L404.06,682.09 L405.46,683.38 L406.85,684.68 L408.25,685.97 L409.64,687.26 L411.04,688.55 L412.44,689.85 L413.83,691.14 L415.23,692.43 L416.62,693.73 L418.02,695.02 L419.41,696.31 L420.81,697.60 L422.21,698.90 L423.60,700.19 L425.00,701.48 L426.39,702.78 L427.79,704.07 L429.19,705.36" stroke="#000000" stroke-width="3.3"/>
<path d="M264.40,510.00L428.60,552.20" stroke="#00ad00" stroke-width="2.1" stroke-dasharray="6.6 2.0"/>
<path d="M264.40,583.90L428.60,711.70" stroke="#0000ff" stroke-width="2.1" stroke-dasharray="6.6 2.0"/>
<path d="M264.60,552.80L428.60,705.20" stroke="#000000" stroke-width="2.1" stroke-dasharray="6.6 2.0"/>
<path d="M182.50,510.40L201.30,519.20" stroke="#a80000" stroke-width="2.1" stroke-dasharray="6.6 2.0"/>
<path d="M190.20,511.40L196.00,513.10" stroke="#00ad00" stroke-width="2.3"/>
<path d="M198.10,512.60L201.20,514.50" stroke="#00ad00" stroke-width="2.3"/>
<path d="M182.90,510.60L187.10,512.30" stroke="#a80000" stroke-width="2.3"/>
<path d="M189.50,512.40L194.70,515.10" stroke="#a80000" stroke-width="2.3"/>
<path d="M197.10,516.20L201.60,519.20" stroke="#a80000" stroke-width="2.3"/>
<path d="M186.40,520.20L192.90,523.60" stroke="#0000ff" stroke-width="2.3"/>
</g>
<rect x="62.4" y="493.05" width="372.65000000000003" height="229.8" fill="none" stroke="#000" stroke-width="1.8"/>
<path d="M63.3,509.10h2.6 M63.3,498.98h1.3 M63.3,542.71h2.6 M63.3,532.59h1.3 M63.3,526.67h1.3 M63.3,522.47h1.3 M63.3,519.22h1.3 M63.3,516.56h1.3 M63.3,514.31h1.3 M63.3,512.36h1.3 M63.3,510.64h1.3 M63.3,576.32h2.6 M63.3,566.20h1.3 M63.3,560.28h1.3 M63.3,556.08h1.3 M63.3,552.83h1.3 M63.3,550.17h1.3 M63.3,547.92h1.3 M63.3,545.97h1.3 M63.3,544.25h1.3 M63.3,609.93h2.6 M63.3,599.81h1.3 M63.3,593.89h1.3 M63.3,589.69h1.3 M63.3,586.44h1.3 M63.3,583.78h1.3 M63.3,581.53h1.3 M63.3,579.58h1.3 M63.3,577.86h1.3 M63.3,643.54h2.6 M63.3,633.42h1.3 M63.3,627.50h1.3 M63.3,623.30h1.3 M63.3,620.05h1.3 M63.3,617.39h1.3 M63.3,615.14h1.3 M63.3,613.19h1.3 M63.3,611.47h1.3 M63.3,677.15h2.6 M63.3,667.03h1.3 M63.3,661.11h1.3 M63.3,656.91h1.3 M63.3,653.66h1.3 M63.3,651.00h1.3 M63.3,648.75h1.3 M63.3,646.80h1.3 M63.3,645.08h1.3 M63.3,710.76h2.6 M63.3,700.64h1.3 M63.3,694.72h1.3 M63.3,690.52h1.3 M63.3,687.27h1.3 M63.3,684.61h1.3 M63.3,682.36h1.3 M63.3,680.41h1.3 M63.3,678.69h1.3 M63.3,720.88h1.3 M63.3,718.22h1.3 M63.3,715.97h1.3 M63.3,714.02h1.3 M63.3,712.30h1.3" stroke="#000" stroke-width="1.1" fill="none"/>
<path d="M69.80,721.95v-2.7 M102.30,721.95v-1.4 M134.80,721.95v-2.7 M167.30,721.95v-1.4 M199.80,721.95v-2.7 M232.30,721.95v-1.4 M264.80,721.95v-2.7 M297.30,721.95v-1.4 M329.80,721.95v-2.7 M362.30,721.95v-1.4 M394.80,721.95v-2.7 M427.30,721.95v-1.4" stroke="#000" stroke-width="1.2" fill="none"/>
<text transform="translate(24.8,518.10) scale(0.93,1)" font-size="23.2">10<tspan font-size="13.6" dy="-6.4">-2</tspan></text>
<text transform="translate(24.8,551.71) scale(0.93,1)" font-size="23.2">10<tspan font-size="13.6" dy="-6.4">-3</tspan></text>
<text transform="translate(24.8,585.32) scale(0.93,1)" font-size="23.2">10<tspan font-size="13.6" dy="-6.4">-4</tspan></text>
<text transform="translate(24.8,618.93) scale(0.93,1)" font-size="23.2">10<tspan font-size="13.6" dy="-6.4">-5</tspan></text>
<text transform="translate(24.8,652.54) scale(0.93,1)" font-size="23.2">10<tspan font-size="13.6" dy="-6.4">-6</tspan></text>
<text transform="translate(24.8,686.15) scale(0.93,1)" font-size="23.2">10<tspan font-size="13.6" dy="-6.4">-7</tspan></text>
<text transform="translate(24.8,719.76) scale(0.93,1)" font-size="23.2">10<tspan font-size="13.6" dy="-6.4">-8</tspan></text>
<clipPath id="c3"><rect x="62.4" y="730.35" width="372.65000000000003" height="231.54999999999995"/></clipPath>
<g clip-path="url(#c3)" fill="none" stroke-linejoin="round">
<path d="M67.69,798.80 L69.08,798.44 L70.48,798.08 L71.87,797.72 L73.27,797.35 L74.67,796.99 L76.06,796.63 L77.46,796.27 L78.85,795.91 L80.25,795.56 L81.64,795.20 L83.04,794.84 L84.44,794.48 L85.83,794.13 L87.23,793.77 L88.62,793.42 L90.02,793.06 L91.42,792.71 L92.81,792.35 L94.21,792.00 L95.60,791.65 L97.00,791.30 L98.39,790.95 L99.79,790.60 L101.19,790.25 L102.58,789.90 L103.98,789.55 L105.37,789.20 L106.77,788.86 L108.16,788.51 L109.56,788.17 L110.96,787.83 L112.35,787.48 L113.75,787.14 L115.14,786.80 L116.54,786.46 L117.93,786.12 L119.33,785.79 L120.73,785.45 L122.12,785.11 L123.52,784.78 L124.91,784.45 L126.31,784.12 L127.70,783.78 L129.10,783.46 L130.50,783.13 L131.89,782.80 L133.29,782.47 L134.68,782.15 L136.08,781.83 L137.47,781.51 L138.87,781.19 L140.27,780.87 L141.66,780.55 L143.06,780.24 L144.45,779.92 L145.85,779.61 L147.24,779.30 L148.64,778.99 L150.04,778.68 L151.43,778.38 L152.83,778.07 L154.22,777.77 L155.62,777.47 L157.02,777.18 L158.41,776.88 L159.81,776.59 L161.20,776.29 L162.60,776.01 L163.99,775.72 L165.39,775.43 L166.79,775.15 L168.18,774.87 L169.58,774.59 L170.97,774.32 L172.37,774.04 L173.76,773.77 L175.16,773.50 L176.56,773.24 L177.95,772.98 L179.35,772.72 L180.74,772.46 L182.14,772.20 L183.53,771.95 L184.93,771.70 L186.33,771.46 L187.72,771.21 L189.12,770.98 L190.51,770.74 L191.91,770.51 L193.30,770.28 L194.70,770.05 L196.10,769.83 L197.49,769.61 L198.89,769.39 L200.28,769.18 L201.68,768.97 L203.07,768.76 L204.47,768.56 L205.87,768.36 L207.26,768.17 L208.66,767.98 L210.05,767.79 L211.45,767.61 L212.84,767.43 L214.24,767.26 L215.64,767.09 L217.03,766.92 L218.43,766.76 L219.82,766.60 L221.22,766.45 L222.62,766.30 L224.01,766.16 L225.41,766.02 L226.80,765.88 L228.20,765.75 L229.59,765.63 L230.99,765.51 L232.39,765.39 L233.78,765.28 L235.18,765.17 L236.57,765.07 L237.97,764.98 L239.36,764.88 L240.76,764.80 L242.16,764.72 L243.55,764.64 L244.95,764.57 L246.34,764.50 L247.74,764.44 L249.13,764.39 L250.53,764.34 L251.93,764.29 L253.32,764.25 L254.72,764.22 L256.11,764.19 L257.51,764.17 L258.90,764.15 L260.30,764.13 L261.70,764.13 L263.09,764.12 L264.49,764.13 L265.88,764.14 L267.28,764.15 L268.67,764.17 L270.07,764.19 L271.47,764.23 L272.86,764.26 L274.26,764.30 L275.65,764.35 L277.05,764.40 L278.44,764.46 L279.84,764.52 L281.24,764.59 L282.63,764.66 L284.03,764.74 L285.42,764.82 L286.82,764.91 L288.21,765.01 L289.61,765.11 L291.01,765.21 L292.40,765.32 L293.80,765.44 L295.19,765.56 L296.59,765.68 L297.99,765.81 L299.38,765.95 L300.78,766.09 L302.17,766.23 L303.57,766.38 L304.96,766.54 L306.36,766.70 L307.76,766.86 L309.15,767.03 L310.55,767.20 L311.94,767.38 L313.34,767.56 L314.73,767.75 L316.13,767.94 L317.53,768.14 L318.92,768.34 L320.32,768.54 L321.71,768.75 L323.11,768.96 L324.50,769.18 L325.90,769.40 L327.30,769.62 L328.69,769.85 L330.09,770.08 L331.48,770.32 L332.88,770.56 L334.27,770.80 L335.67,771.05 L337.07,771.30 L338.46,771.55 L339.86,771.81 L341.25,772.07 L342.65,772.34 L344.04,772.61 L345.44,772.88 L346.84,773.15 L348.23,773.43 L349.63,773.71 L351.02,773.99 L352.42,774.28 L353.81,774.57 L355.21,774.86 L356.61,775.15 L358.00,775.45 L359.40,775.75 L360.79,776.06 L362.19,776.36 L363.59,776.67 L364.98,776.98 L366.38,777.29 L367.77,777.61 L369.17,777.93 L370.56,778.25 L371.96,778.57 L373.36,778.89 L374.75,779.22 L376.15,779.55 L377.54,779.88 L378.94,780.21 L380.33,780.55 L381.73,780.88 L383.13,781.22 L384.52,781.56 L385.92,781.90 L387.31,782.25 L388.71,782.59 L390.10,782.94 L391.50,783.29 L392.90,783.64 L394.29,783.99 L395.69,784.35 L397.08,784.70 L398.48,785.06 L399.87,785.42 L401.27,785.78 L402.67,786.14 L404.06,786.50 L405.46,786.86 L406.85,787.23 L408.25,787.59 L409.64,787.96 L411.04,788.33 L412.44,788.70 L413.83,789.07 L415.23,789.44 L416.62,789.82 L418.02,790.19 L419.41,790.57 L420.81,790.94 L422.21,791.32 L423.60,791.70 L425.00,792.08 L426.39,792.46 L427.79,792.84 L429.19,793.22" stroke="#00ad00" stroke-width="3.3"/>
<path d="M67.69,826.98 L69.08,826.17 L70.48,825.35 L71.87,824.54 L73.27,823.73 L74.67,822.91 L76.06,822.10 L77.46,821.29 L78.85,820.48 L80.25,819.67 L81.64,818.86 L83.04,818.05 L84.44,817.24 L85.83,816.43 L87.23,815.62 L88.62,814.82 L90.02,814.01 L91.42,813.21 L92.81,812.40 L94.21,811.60 L95.60,810.79 L97.00,809.99 L98.39,809.19 L99.79,808.39 L101.19,807.59 L102.58,806.79 L103.98,806.00 L105.37,805.20 L106.77,804.41 L108.16,803.61 L109.56,802.82 L110.96,802.03 L112.35,801.24 L113.75,800.45 L115.14,799.67 L116.54,798.88 L117.93,798.10 L119.33,797.32 L120.73,796.54 L122.12,795.77 L123.52,794.99 L124.91,794.22 L126.31,793.45 L127.70,792.68 L129.10,791.92 L130.50,791.16 L131.89,790.40 L133.29,789.64 L134.68,788.89 L136.08,788.14 L137.47,787.40 L138.87,786.65 L140.27,785.91 L141.66,785.18 L143.06,784.45 L144.45,783.72 L145.85,783.00 L147.24,782.28 L148.64,781.57 L150.04,780.86 L151.43,780.16 L152.83,779.46 L154.22,778.77 L155.62,778.08 L157.02,777.40 L158.41,776.73 L159.81,776.06 L161.20,775.40 L162.60,774.75 L163.99,774.10 L165.39,773.47 L166.79,772.84 L168.18,772.22 L169.58,771.60 L170.97,771.00 L172.37,770.41 L173.76,769.82 L175.16,769.25 L176.56,768.68 L177.95,768.13 L179.35,767.59 L180.74,767.05 L182.14,766.54 L183.53,766.03 L184.93,765.53 L186.33,765.05 L187.72,764.58 L189.12,764.13 L190.51,763.68 L191.91,763.26 L193.30,762.84 L194.70,762.45 L196.10,762.06 L197.49,761.70 L198.89,761.35 L200.28,761.01 L201.68,760.70 L203.07,760.39 L204.47,760.11 L205.87,759.85 L207.26,759.60 L208.66,759.37 L210.05,759.16 L211.45,758.97 L212.84,758.79 L214.24,758.64 L215.64,758.50 L217.03,758.39 L218.43,758.29 L219.82,758.22 L221.22,758.16 L222.62,758.12 L224.01,758.11 L225.41,758.11 L226.80,758.13 L228.20,758.18 L229.59,758.24 L230.99,758.32 L232.39,758.42 L233.78,758.54 L235.18,758.69 L236.57,758.85 L237.97,759.02 L239.36,759.22 L240.76,759.44 L242.16,759.68 L243.55,759.93 L244.95,760.20 L246.34,760.49 L247.74,760.80 L249.13,761.12 L250.53,761.46 L251.93,761.82 L253.32,762.19 L254.72,762.58 L256.11,762.98 L257.51,763.40 L258.90,763.83 L260.30,764.28 L261.70,764.74 L263.09,765.22 L264.49,765.71 L265.88,766.21 L267.28,766.72 L268.67,767.25 L270.07,767.79 L271.47,768.34 L272.86,768.90 L274.26,769.47 L275.65,770.05 L277.05,770.64 L278.44,771.24 L279.84,771.85 L281.24,772.47 L282.63,773.10 L284.03,773.73 L285.42,774.38 L286.82,775.03 L288.21,775.69 L289.61,776.35 L291.01,777.03 L292.40,777.71 L293.80,778.39 L295.19,779.08 L296.59,779.78 L297.99,780.49 L299.38,781.20 L300.78,781.91 L302.17,782.63 L303.57,783.35 L304.96,784.08 L306.36,784.82 L307.76,785.55 L309.15,786.29 L310.55,787.04 L311.94,787.79 L313.34,788.54 L314.73,789.30 L316.13,790.06 L317.53,790.82 L318.92,791.58 L320.32,792.35 L321.71,793.12 L323.11,793.90 L324.50,794.67 L325.90,795.45 L327.30,796.23 L328.69,797.02 L330.09,797.80 L331.48,798.59 L332.88,799.38 L334.27,800.17 L335.67,800.96 L337.07,801.75 L338.46,802.55 L339.86,803.35 L341.25,804.14 L342.65,804.94 L344.04,805.75 L345.44,806.55 L346.84,807.35 L348.23,808.16 L349.63,808.96 L351.02,809.77 L352.42,810.58 L353.81,811.38 L355.21,812.19 L356.61,813.01 L358.00,813.82 L359.40,814.63 L360.79,815.44 L362.19,816.25 L363.59,817.07 L364.98,817.88 L366.38,818.70 L367.77,819.52 L369.17,820.33 L370.56,821.15 L371.96,821.97 L373.36,822.78 L374.75,823.60 L376.15,824.42 L377.54,825.24 L378.94,826.06 L380.33,826.88 L381.73,827.70 L383.13,828.52 L384.52,829.35 L385.92,830.17 L387.31,830.99 L388.71,831.81 L390.10,832.63 L391.50,833.46 L392.90,834.28 L394.29,835.10 L395.69,835.93 L397.08,836.75 L398.48,837.57 L399.87,838.40 L401.27,839.22 L402.67,840.05 L404.06,840.87 L405.46,841.70 L406.85,842.52 L408.25,843.34 L409.64,844.17 L411.04,845.00 L412.44,845.82 L413.83,846.65 L415.23,847.47 L416.62,848.30 L418.02,849.12 L419.41,849.95 L420.81,850.78 L422.21,851.60 L423.60,852.43 L425.00,853.25 L426.39,854.08 L427.79,854.91 L429.19,855.73" stroke="#a80000" stroke-width="3.3"/>
<path d="M67.69,867.15 L69.08,865.92 L70.48,864.70 L71.87,863.48 L73.27,862.25 L74.67,861.03 L76.06,859.80 L77.46,858.58 L78.85,857.36 L80.25,856.13 L81.64,854.91 L83.04,853.69 L84.44,852.47 L85.83,851.24 L87.23,850.02 L88.62,848.80 L90.02,847.57 L91.42,846.35 L92.81,845.13 L94.21,843.91 L95.60,842.69 L97.00,841.47 L98.39,840.24 L99.79,839.02 L101.19,837.80 L102.58,836.58 L103.98,835.36 L105.37,834.14 L106.77,832.92 L108.16,831.71 L109.56,830.49 L110.96,829.27 L112.35,828.05 L113.75,826.84 L115.14,825.62 L116.54,824.40 L117.93,823.19 L119.33,821.98 L120.73,820.76 L122.12,819.55 L123.52,818.34 L124.91,817.13 L126.31,815.92 L127.70,814.71 L129.10,813.51 L130.50,812.30 L131.89,811.10 L133.29,809.89 L134.68,808.69 L136.08,807.50 L137.47,806.30 L138.87,805.11 L140.27,803.91 L141.66,802.72 L143.06,801.54 L144.45,800.35 L145.85,799.17 L147.24,798.00 L148.64,796.82 L150.04,795.65 L151.43,794.49 L152.83,793.33 L154.22,792.17 L155.62,791.02 L157.02,789.87 L158.41,788.73 L159.81,787.60 L161.20,786.48 L162.60,785.36 L163.99,784.25 L165.39,783.14 L166.79,782.05 L168.18,780.97 L169.58,779.89 L170.97,778.83 L172.37,777.78 L173.76,776.74 L175.16,775.72 L176.56,774.71 L177.95,773.71 L179.35,772.73 L180.74,771.77 L182.14,770.83 L183.53,769.90 L184.93,769.00 L186.33,768.12 L187.72,767.26 L189.12,766.42 L190.51,765.61 L191.91,764.83 L193.30,764.07 L194.70,763.34 L196.10,762.65 L197.49,761.98 L198.89,761.35 L200.28,760.75 L201.68,760.19 L203.07,759.67 L204.47,759.18 L205.87,758.74 L207.26,758.33 L208.66,757.97 L210.05,757.65 L211.45,757.37 L212.84,757.14 L214.24,756.95 L215.64,756.81 L217.03,756.71 L218.43,756.66 L219.82,756.65 L221.22,756.69 L222.62,756.78 L224.01,756.92 L225.41,757.10 L226.80,757.32 L228.20,757.59 L229.59,757.90 L230.99,758.26 L232.39,758.66 L233.78,759.10 L235.18,759.58 L236.57,760.10 L237.97,760.66 L239.36,761.25 L240.76,761.88 L242.16,762.54 L243.55,763.24 L244.95,763.96 L246.34,764.72 L247.74,765.51 L249.13,766.32 L250.53,767.16 L251.93,768.02 L253.32,768.91 L254.72,769.82 L256.11,770.75 L257.51,771.70 L258.90,772.67 L260.30,773.65 L261.70,774.66 L263.09,775.68 L264.49,776.71 L265.88,777.76 L267.28,778.82 L268.67,779.89 L270.07,780.98 L271.47,782.07 L272.86,783.18 L274.26,784.29 L275.65,785.42 L277.05,786.55 L278.44,787.69 L279.84,788.83 L281.24,789.99 L282.63,791.15 L284.03,792.31 L285.42,793.48 L286.82,794.66 L288.21,795.84 L289.61,797.02 L291.01,798.21 L292.40,799.40 L293.80,800.60 L295.19,801.80 L296.59,803.00 L297.99,804.21 L299.38,805.41 L300.78,806.62 L302.17,807.84 L303.57,809.05 L304.96,810.27 L306.36,811.49 L307.76,812.71 L309.15,813.93 L310.55,815.15 L311.94,816.38 L313.34,817.60 L314.73,818.83 L316.13,820.06 L317.53,821.29 L318.92,822.52 L320.32,823.75 L321.71,824.98 L323.11,826.21 L324.50,827.44 L325.90,828.68 L327.30,829.91 L328.69,831.15 L330.09,832.38 L331.48,833.62 L332.88,834.85 L334.27,836.09 L335.67,837.33 L337.07,838.56 L338.46,839.80 L339.86,841.04 L341.25,842.28 L342.65,843.52 L344.04,844.76 L345.44,846.00 L346.84,847.23 L348.23,848.47 L349.63,849.71 L351.02,850.95 L352.42,852.19 L353.81,853.43 L355.21,854.67 L356.61,855.91 L358.00,857.16 L359.40,858.40 L360.79,859.64 L362.19,860.88 L363.59,862.12 L364.98,863.36 L366.38,864.60 L367.77,865.84 L369.17,867.08 L370.56,868.32 L371.96,869.57 L373.36,870.81 L374.75,872.05 L376.15,873.29 L377.54,874.53 L378.94,875.77 L380.33,877.01 L381.73,878.26 L383.13,879.50 L384.52,880.74 L385.92,881.98 L387.31,883.22 L388.71,884.46 L390.10,885.71 L391.50,886.95 L392.90,888.19 L394.29,889.43 L395.69,890.67 L397.08,891.91 L398.48,893.16 L399.87,894.40 L401.27,895.64 L402.67,896.88 L404.06,898.12 L405.46,899.37 L406.85,900.61 L408.25,901.85 L409.64,903.09 L411.04,904.33 L412.44,905.58 L413.83,906.82 L415.23,908.06 L416.62,909.30 L418.02,910.54 L419.41,911.79 L420.81,913.03 L422.21,914.27 L423.60,915.51 L425.00,916.75 L426.39,917.99 L427.79,919.24 L429.19,920.48" stroke="#0000ff" stroke-width="3.3"/>
<path d="M67.69,901.72 L69.08,900.22 L70.48,898.73 L71.87,897.24 L73.27,895.75 L74.67,894.26 L76.06,892.77 L77.46,891.27 L78.85,889.78 L80.25,888.29 L81.64,886.80 L83.04,885.31 L84.44,883.82 L85.83,882.33 L87.23,880.83 L88.62,879.34 L90.02,877.85 L91.42,876.36 L92.81,874.87 L94.21,873.38 L95.60,871.89 L97.00,870.40 L98.39,868.91 L99.79,867.42 L101.19,865.93 L102.58,864.44 L103.98,862.94 L105.37,861.45 L106.77,859.96 L108.16,858.47 L109.56,856.99 L110.96,855.50 L112.35,854.01 L113.75,852.52 L115.14,851.03 L116.54,849.54 L117.93,848.05 L119.33,846.56 L120.73,845.08 L122.12,843.59 L123.52,842.10 L124.91,840.62 L126.31,839.13 L127.70,837.65 L129.10,836.16 L130.50,834.68 L131.89,833.20 L133.29,831.71 L134.68,830.23 L136.08,828.75 L137.47,827.27 L138.87,825.80 L140.27,824.32 L141.66,822.84 L143.06,821.37 L144.45,819.90 L145.85,818.43 L147.24,816.96 L148.64,815.49 L150.04,814.03 L151.43,812.57 L152.83,811.11 L154.22,809.65 L155.62,808.20 L157.02,806.75 L158.41,805.30 L159.81,803.86 L161.20,802.43 L162.60,800.99 L163.99,799.57 L165.39,798.14 L166.79,796.73 L168.18,795.32 L169.58,793.92 L170.97,792.53 L172.37,791.14 L173.76,789.77 L175.16,788.40 L176.56,787.05 L177.95,785.71 L179.35,784.38 L180.74,783.06 L182.14,781.76 L183.53,780.48 L184.93,779.21 L186.33,777.96 L187.72,776.73 L189.12,775.53 L190.51,774.34 L191.91,773.18 L193.30,772.05 L194.70,770.95 L196.10,769.87 L197.49,768.83 L198.89,767.82 L200.28,766.85 L201.68,765.91 L203.07,765.02 L204.47,764.17 L205.87,763.36 L207.26,762.60 L208.66,761.89 L210.05,761.23 L211.45,760.62 L212.84,760.07 L214.24,759.57 L215.64,759.13 L217.03,758.76 L218.43,758.44 L219.82,758.18 L221.22,757.99 L222.62,757.86 L224.01,757.80 L225.41,757.80 L226.80,757.86 L228.20,757.99 L229.59,758.18 L230.99,758.44 L232.39,758.75 L233.78,759.13 L235.18,759.57 L236.57,760.07 L237.97,760.62 L239.36,761.23 L240.76,761.89 L242.16,762.60 L243.55,763.36 L244.95,764.16 L246.34,765.01 L247.74,765.91 L249.13,766.84 L250.53,767.81 L251.93,768.82 L253.32,769.86 L254.72,770.93 L256.11,772.04 L257.51,773.17 L258.90,774.33 L260.30,775.51 L261.70,776.72 L263.09,777.94 L264.49,779.19 L265.88,780.46 L267.28,781.74 L268.67,783.04 L270.07,784.36 L271.47,785.68 L272.86,787.02 L274.26,788.38 L275.65,789.74 L277.05,791.11 L278.44,792.50 L279.84,793.89 L281.24,795.29 L282.63,796.70 L284.03,798.11 L285.42,799.53 L286.82,800.95 L288.21,802.39 L289.61,803.82 L291.01,805.26 L292.40,806.71 L293.80,808.15 L295.19,809.60 L296.59,811.06 L297.99,812.52 L299.38,813.98 L300.78,815.44 L302.17,816.91 L303.57,818.37 L304.96,819.84 L306.36,821.31 L307.76,822.78 L309.15,824.26 L310.55,825.73 L311.94,827.21 L313.34,828.69 L314.73,830.17 L316.13,831.65 L317.53,833.13 L318.92,834.61 L320.32,836.09 L321.71,837.57 L323.11,839.06 L324.50,840.54 L325.90,842.03 L327.30,843.51 L328.69,845.00 L330.09,846.48 L331.48,847.97 L332.88,849.45 L334.27,850.94 L335.67,852.43 L337.07,853.92 L338.46,855.40 L339.86,856.89 L341.25,858.38 L342.65,859.87 L344.04,861.36 L345.44,862.84 L346.84,864.33 L348.23,865.82 L349.63,867.31 L351.02,868.80 L352.42,870.29 L353.81,871.78 L355.21,873.27 L356.61,874.76 L358.00,876.25 L359.40,877.74 L360.79,879.23 L362.19,880.72 L363.59,882.21 L364.98,883.70 L366.38,885.19 L367.77,886.68 L369.17,888.17 L370.56,889.66 L371.96,891.15 L373.36,892.64 L374.75,894.13 L376.15,895.62 L377.54,897.11 L378.94,898.60 L380.33,900.09 L381.73,901.58 L383.13,903.07 L384.52,904.56 L385.92,906.05 L387.31,907.54 L388.71,909.03 L390.10,910.52 L391.50,912.01 L392.90,913.50 L394.29,914.99 L395.69,916.48 L397.08,917.97 L398.48,919.46 L399.87,920.95 L401.27,922.44 L402.67,923.93 L404.06,925.42 L405.46,926.91 L406.85,928.40 L408.25,929.89 L409.64,931.38 L411.04,932.87 L412.44,934.36 L413.83,935.86 L415.23,937.35 L416.62,938.84 L418.02,940.33 L419.41,941.82 L420.81,943.31 L422.21,944.80 L423.60,946.29 L425.00,947.78 L426.39,949.27 L427.79,950.76 L429.19,952.25" stroke="#000000" stroke-width="3.3"/>
<path d="M68.00,797.30L198.90,759.40" stroke="#00ad00" stroke-width="2.1" stroke-dasharray="6.6 2.0"/>
<path d="M263.90,742.80L429.00,791.30" stroke="#00ad00" stroke-width="2.1" stroke-dasharray="6.6 2.0"/>
<path d="M68.00,826.60L200.70,749.30" stroke="#a80000" stroke-width="2.1" stroke-dasharray="6.6 2.0"/>
<path d="M263.90,758.00L429.00,855.70" stroke="#a80000" stroke-width="2.1" stroke-dasharray="6.6 2.0"/>
<path d="M68.00,866.60L200.70,750.30" stroke="#0000ff" stroke-width="2.1" stroke-dasharray="6.6 2.0"/>
<path d="M263.90,773.60L428.60,919.50" stroke="#0000ff" stroke-width="2.1" stroke-dasharray="6.6 2.0"/>
<path d="M68.00,900.20L200.10,760.60" stroke="#000000" stroke-width="2.1" stroke-dasharray="6.6 2.0"/>
<path d="M264.40,775.00L428.60,950.30" stroke="#000000" stroke-width="2.1" stroke-dasharray="6.6 2.0"/>
</g>
<rect x="62.4" y="730.35" width="372.65000000000003" height="231.54999999999995" fill="none" stroke="#000" stroke-width="1.8"/>
<path d="M63.3,743.80h2.6 M63.3,732.20h1.3 M63.3,782.32h2.6 M63.3,770.72h1.3 M63.3,763.94h1.3 M63.3,759.13h1.3 M63.3,755.40h1.3 M63.3,752.35h1.3 M63.3,749.77h1.3 M63.3,747.53h1.3 M63.3,745.56h1.3 M63.3,820.84h2.6 M63.3,809.24h1.3 M63.3,802.46h1.3 M63.3,797.65h1.3 M63.3,793.92h1.3 M63.3,790.87h1.3 M63.3,788.29h1.3 M63.3,786.05h1.3 M63.3,784.08h1.3 M63.3,859.36h2.6 M63.3,847.76h1.3 M63.3,840.98h1.3 M63.3,836.17h1.3 M63.3,832.44h1.3 M63.3,829.39h1.3 M63.3,826.81h1.3 M63.3,824.57h1.3 M63.3,822.60h1.3 M63.3,897.88h2.6 M63.3,886.28h1.3 M63.3,879.50h1.3 M63.3,874.69h1.3 M63.3,870.96h1.3 M63.3,867.91h1.3 M63.3,865.33h1.3 M63.3,863.09h1.3 M63.3,861.12h1.3 M63.3,936.40h2.6 M63.3,924.80h1.3 M63.3,918.02h1.3 M63.3,913.21h1.3 M63.3,909.48h1.3 M63.3,906.43h1.3 M63.3,903.85h1.3 M63.3,901.61h1.3 M63.3,899.64h1.3 M63.3,956.54h1.3 M63.3,951.73h1.3 M63.3,948.00h1.3 M63.3,944.95h1.3 M63.3,942.37h1.3 M63.3,940.13h1.3 M63.3,938.16h1.3" stroke="#000" stroke-width="1.1" fill="none"/>
<path d="M69.80,961.0v-2.7 M102.30,961.0v-1.4 M134.80,961.0v-2.7 M167.30,961.0v-1.4 M199.80,961.0v-2.7 M232.30,961.0v-1.4 M264.80,961.0v-2.7 M297.30,961.0v-1.4 M329.80,961.0v-2.7 M362.30,961.0v-1.4 M394.80,961.0v-2.7 M427.30,961.0v-1.4" stroke="#000" stroke-width="1.2" fill="none"/>
<text transform="translate(24.8,752.80) scale(0.93,1)" font-size="23.2">10<tspan font-size="13.6" dy="-6.4">-2</tspan></text>
<text transform="translate(24.8,791.32) scale(0.93,1)" font-size="23.2">10<tspan font-size="13.6" dy="-6.4">-3</tspan></text>
<text transform="translate(24.8,829.84) scale(0.93,1)" font-size="23.2">10<tspan font-size="13.6" dy="-6.4">-4</tspan></text>
<text transform="translate(24.8,868.36) scale(0.93,1)" font-size="23.2">10<tspan font-size="13.6" dy="-6.4">-5</tspan></text>
<text transform="translate(24.8,906.88) scale(0.93,1)" font-size="23.2">10<tspan font-size="13.6" dy="-6.4">-6</tspan></text>
<text transform="translate(24.8,945.40) scale(0.93,1)" font-size="23.2">10<tspan font-size="13.6" dy="-6.4">-7</tspan></text>
<rect x="112.95" y="153.7" width="81.85" height="81.35" fill="#fff" stroke="#151515" stroke-width="1.35"/>
<rect x="116.7" y="165.90" width="16.2" height="3.6" fill="#22a845"/>
<text transform="translate(137,173.00) scale(0.94,1)" font-size="19.9">α=0.25</text>
<rect x="116.7" y="185.45" width="16.2" height="3.6" fill="#a82020"/>
<text transform="translate(137,192.55) scale(0.94,1)" font-size="19.9">α=0.5</text>
<rect x="116.7" y="205.00" width="16.2" height="3.6" fill="#0000ff"/>
<text transform="translate(137,212.10) scale(0.94,1)" font-size="19.9">α=0.75</text>
<rect x="116.7" y="224.55" width="16.2" height="3.6" fill="#222222"/>
<text transform="translate(137,231.65) scale(0.94,1)" font-size="19.9">α=0.9</text>
<text x="401.6" y="43.55" font-size="22">D<tspan font-size="12.6" dy="3.0">0</tspan></text>
<rect x="112.95" y="391.2" width="81.85" height="81.35" fill="#fff" stroke="#151515" stroke-width="1.35"/>
<rect x="116.7" y="403.40" width="16.2" height="3.6" fill="#22a845"/>
<text transform="translate(137,410.50) scale(0.94,1)" font-size="19.9">α=0.25</text>
<rect x="116.7" y="422.95" width="16.2" height="3.6" fill="#a82020"/>
<text transform="translate(137,430.05) scale(0.94,1)" font-size="19.9">α=0.5</text>
<rect x="116.7" y="442.50" width="16.2" height="3.6" fill="#0000ff"/>
<text transform="translate(137,449.60) scale(0.94,1)" font-size="19.9">α=0.75</text>
<rect x="116.7" y="462.05" width="16.2" height="3.6" fill="#222222"/>
<text transform="translate(137,469.15) scale(0.94,1)" font-size="19.9">α=0.9</text>
<text x="401.6" y="279.75" font-size="22">D<tspan font-size="12.6" dy="3.0">2</tspan></text>
<rect x="112.95" y="625.7" width="81.85" height="81.35" fill="#fff" stroke="#151515" stroke-width="1.35"/>
<rect x="116.7" y="637.90" width="16.2" height="3.6" fill="#22a845"/>
<text transform="translate(137,645.00) scale(0.94,1)" font-size="19.9">α=0.25</text>
<rect x="116.7" y="657.45" width="16.2" height="3.6" fill="#a82020"/>
<text transform="translate(137,664.55) scale(0.94,1)" font-size="19.9">α=0.5</text>
<rect x="116.7" y="677.00" width="16.2" height="3.6" fill="#0000ff"/>
<text transform="translate(137,684.10) scale(0.94,1)" font-size="19.9">α=0.75</text>
<rect x="116.7" y="696.55" width="16.2" height="3.6" fill="#222222"/>
<text transform="translate(137,703.65) scale(0.94,1)" font-size="19.9">α=0.9</text>
<text x="397.4" y="516.75" font-size="22">|<tspan dx="0.6">D</tspan><tspan font-size="12.6" dy="3.0">3</tspan><tspan font-size="22" dy="-3.0" dx="0.4">|</tspan></text>
<rect x="112.95" y="865.2" width="81.85" height="81.35" fill="#fff" stroke="#151515" stroke-width="1.35"/>
<rect x="116.7" y="877.40" width="16.2" height="3.6" fill="#22a845"/>
<text transform="translate(137,884.50) scale(0.94,1)" font-size="19.9">α=0.25</text>
<rect x="116.7" y="896.95" width="16.2" height="3.6" fill="#a82020"/>
<text transform="translate(137,904.05) scale(0.94,1)" font-size="19.9">α=0.5</text>
<rect x="116.7" y="916.50" width="16.2" height="3.6" fill="#0000ff"/>
<text transform="translate(137,923.60) scale(0.94,1)" font-size="19.9">α=0.75</text>
<rect x="116.7" y="936.05" width="16.2" height="3.6" fill="#222222"/>
<text transform="translate(137,943.15) scale(0.94,1)" font-size="19.9">α=0.9</text>
<text x="401.6" y="754.05" font-size="22">D<tspan font-size="12.6" dy="3.0">4</tspan></text>
<path d="M312.10,177.50L327.98,153.90" stroke="#000" stroke-width="2.35" fill="none"/><path d="M330.60,150.00Q329.99,155.88 331.97,161.77L327.42,154.73L319.19,153.17Q325.39,152.78 330.60,150.00Z" fill="#000"/>
<text x="286.3" y="193.7" font-size="20"><tspan dy="1.7">~</tspan><tspan dy="-1.7">k</tspan><tspan font-size="11.2" dy="-6.2" dx="-1.2">-α</tspan></text>
<path d="M311.80,422.80L327.79,398.91" stroke="#000" stroke-width="2.35" fill="none"/><path d="M330.40,395.00Q329.80,400.88 331.79,406.76L327.23,399.74L319.00,398.20Q325.19,397.80 330.40,395.00Z" fill="#000"/>
<text x="284.4" y="438.3" font-size="20"><tspan dy="1.7">~</tspan><tspan dy="-1.7">k</tspan><tspan font-size="11.2" dy="-6.2" dx="-1.2">-α</tspan></text>
<path d="M311.80,673.80L327.79,649.91" stroke="#000" stroke-width="2.35" fill="none"/><path d="M330.40,646.00Q329.80,651.88 331.79,657.76L327.23,650.74L319.00,649.20Q325.19,648.80 330.40,646.00Z" fill="#000"/>
<text x="284.4" y="689.1" font-size="20"><tspan dy="1.7">~</tspan><tspan dy="-1.7">k</tspan><tspan font-size="11.2" dy="-6.2" dx="-1.2">-α</tspan></text>
<path d="M311.80,885.00L327.81,860.82" stroke="#000" stroke-width="2.35" fill="none"/><path d="M330.40,856.90Q329.83,862.78 331.85,868.65L327.25,861.65L319.01,860.15Q325.21,859.72 330.40,856.90Z" fill="#000"/>
<text x="282.3" y="899.7" font-size="20"><tspan dy="1.7">~</tspan><tspan dy="-1.7">k</tspan><tspan font-size="11.2" dy="-6.2" dx="-1.2">-α</tspan></text>
<path d="M102.60,759.40L113.36,776.15" stroke="#000" stroke-width="2.35" fill="none"/><path d="M115.90,780.10Q110.75,777.21 104.56,776.69L112.82,775.30L117.51,768.37Q115.41,774.21 115.90,780.10Z" fill="#000"/>
<text x="81.7" y="752.6" font-size="20"><tspan dy="1.7">~</tspan><tspan dy="-1.7">k</tspan><tspan font-size="11.2" dy="-6.2" dx="0.3">α</tspan></text>
<text transform="translate(60.70,982.6) scale(0.93,1)" font-size="23.2">10<tspan font-size="13.6" dy="-6.4">-3</tspan></text>
<text transform="translate(125.70,982.6) scale(0.93,1)" font-size="23.2">10<tspan font-size="13.6" dy="-6.4">-1</tspan></text>
<text transform="translate(195.40,982.6) scale(0.93,1)" font-size="23.2">10</text>
<text transform="translate(257.50,982.6) scale(0.93,1)" font-size="23.2">10<tspan font-size="13.6" dy="-6.4">3</tspan></text>
<text transform="translate(323.35,982.6) scale(0.93,1)" font-size="23.2">10<tspan font-size="13.6" dy="-6.4">5</tspan></text>
<text transform="translate(387.50,982.6) scale(0.93,1)" font-size="23.2">10<tspan font-size="13.6" dy="-6.4">7</tspan></text>
<text x="228.1" y="1001.6" font-size="22.4">k</text>
</svg>
</body></html>
